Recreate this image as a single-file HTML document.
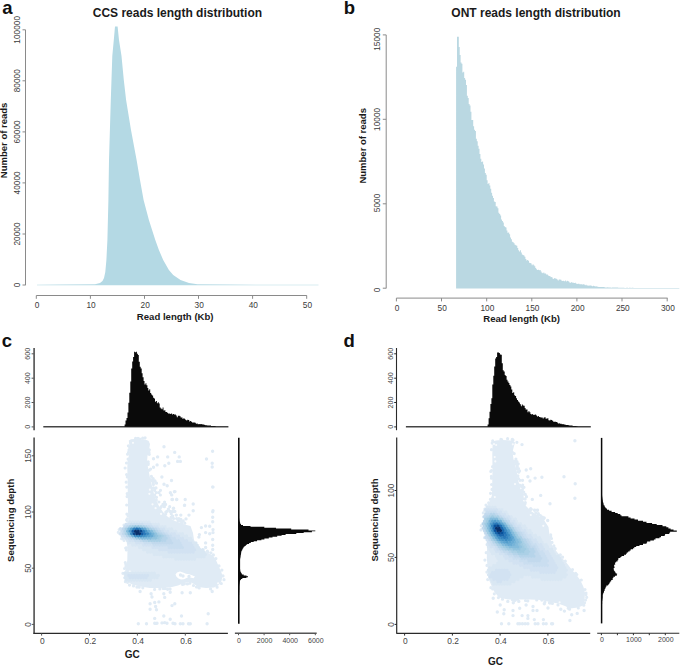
<!DOCTYPE html>
<html><head><meta charset="utf-8"><style>
html,body{margin:0;padding:0;background:#fff;width:685px;height:665px;overflow:hidden}
svg{display:block;font-family:"Liberation Sans",sans-serif}
</style></head><body>
<svg width="685" height="665" viewBox="0 0 685 665">
<rect width="685" height="665" fill="#fff"/>
<text x="2.3" y="14.2" text-anchor="start" font-size="18.5" font-weight="bold" fill="#111">a</text>
<text x="177.4" y="16.6" text-anchor="middle" font-size="12" font-weight="bold" fill="#1a1a1a">CCS reads length distribution</text>
<path d="M117.6,26.6 119,40 121.5,56 123.8,80 126.1,100 131,130 136.6,160 140,180 143.6,200 148.9,220 152.1,230 155.3,240 158.9,250 163.2,260 168.9,270 173.2,275 180.5,280 189,283 197.4,284.3 230,284.6 318.5,284.8 L318.5,285.3 L37,285.3 37,284.8 60,284.6 95,284.2 100,283 102.5,281 104,278 105.3,272 106.4,260 107.4,240 108.4,200 109,160 110.8,100 112.3,56 113.8,40 115,26.6Z" fill="#b4d9e4"/>
<line x1="25.5" y1="29.8" x2="25.5" y2="285.2" stroke="#8a8a8a" stroke-width="1"/>
<line x1="22.5" y1="285" x2="25.5" y2="285" stroke="#8a8a8a" stroke-width="1"/>
<text transform="translate(19.6,285) rotate(-90)" text-anchor="middle" font-size="8.3" fill="#3a3a3a">0</text>
<line x1="22.5" y1="234" x2="25.5" y2="234" stroke="#8a8a8a" stroke-width="1"/>
<text transform="translate(19.6,234) rotate(-90)" text-anchor="middle" font-size="8.3" fill="#3a3a3a">20000</text>
<line x1="22.5" y1="182.9" x2="25.5" y2="182.9" stroke="#8a8a8a" stroke-width="1"/>
<text transform="translate(19.6,182.9) rotate(-90)" text-anchor="middle" font-size="8.3" fill="#3a3a3a">40000</text>
<line x1="22.5" y1="131.9" x2="25.5" y2="131.9" stroke="#8a8a8a" stroke-width="1"/>
<text transform="translate(19.6,131.9) rotate(-90)" text-anchor="middle" font-size="8.3" fill="#3a3a3a">60000</text>
<line x1="22.5" y1="80.8" x2="25.5" y2="80.8" stroke="#8a8a8a" stroke-width="1"/>
<text transform="translate(19.6,80.8) rotate(-90)" text-anchor="middle" font-size="8.3" fill="#3a3a3a">80000</text>
<line x1="22.5" y1="29.8" x2="25.5" y2="29.8" stroke="#8a8a8a" stroke-width="1"/>
<text transform="translate(19.6,29.8) rotate(-90)" text-anchor="middle" font-size="8.3" fill="#3a3a3a">100000</text>
<line x1="36.3" y1="295.5" x2="306.8" y2="295.5" stroke="#8a8a8a" stroke-width="1"/>
<line x1="36.3" y1="295.5" x2="36.3" y2="298.8" stroke="#8a8a8a" stroke-width="1"/>
<text x="37" y="308" text-anchor="middle" font-size="8.3" fill="#3a3a3a">0</text>
<line x1="90.4" y1="295.5" x2="90.4" y2="298.8" stroke="#8a8a8a" stroke-width="1"/>
<text x="91.1" y="308" text-anchor="middle" font-size="8.3" fill="#3a3a3a">10</text>
<line x1="144.5" y1="295.5" x2="144.5" y2="298.8" stroke="#8a8a8a" stroke-width="1"/>
<text x="145.2" y="308" text-anchor="middle" font-size="8.3" fill="#3a3a3a">20</text>
<line x1="198.5" y1="295.5" x2="198.5" y2="298.8" stroke="#8a8a8a" stroke-width="1"/>
<text x="199.2" y="308" text-anchor="middle" font-size="8.3" fill="#3a3a3a">30</text>
<line x1="252.6" y1="295.5" x2="252.6" y2="298.8" stroke="#8a8a8a" stroke-width="1"/>
<text x="253.3" y="308" text-anchor="middle" font-size="8.3" fill="#3a3a3a">40</text>
<line x1="306.7" y1="295.5" x2="306.7" y2="298.8" stroke="#8a8a8a" stroke-width="1"/>
<text x="307.4" y="308" text-anchor="middle" font-size="8.3" fill="#3a3a3a">50</text>
<text x="175.2" y="319.8" text-anchor="middle" font-size="9.6" font-weight="bold" fill="#1a1a1a">Read length (Kb)</text>
<text transform="translate(7.3,140.4) rotate(-90)" text-anchor="middle" font-size="9.5" font-weight="bold" fill="#1a1a1a">Number of reads</text>
<text x="343.8" y="14.2" text-anchor="start" font-size="18.5" font-weight="bold" fill="#111">b</text>
<text x="536" y="16.6" text-anchor="middle" font-size="12" font-weight="bold" fill="#1a1a1a">ONT reads length distribution</text>
<path d="M456.1,288.6V66.8H457.0V36.8H457.9V36.8H458.8V47.0H459.7V54.9H460.6V62.5H461.5V63.8H462.4V72.4H463.3V71.8H464.2V77.9H465.1V79.8H466.0V85.1H466.9V95.7H467.8V97.9H468.7V103.9H469.6V105.6H470.5V111.7H471.4V119.9H472.3V120.0H473.2V126.2H474.1V129.7H475.0V130.9H475.9V138.8H476.8V141.2H477.7V145.7H478.6V148.8H479.5V153.9H480.4V158.7H481.3V161.9H482.2V161.4H483.1V164.5H484.0V168.6H484.9V173.0H485.8V174.7H486.7V180.2H487.6V183.9H488.5V183.0H489.4V185.5H490.3V188.7H491.2V192.8H492.1V195.7H493.0V198.0H493.9V201.6H494.8V202.1H495.7V206.3H496.6V206.6H497.5V208.3H498.4V212.8H499.3V213.9H500.2V215.4H501.1V219.6H502.0V221.1H502.9V222.6H503.8V226.0H504.7V227.0H505.6V227.5H506.5V230.6H507.4V232.7H508.3V232.6H509.2V234.3H510.1V237.5H511.0V239.3H511.9V241.7H512.8V242.3H513.7V243.2H514.6V244.7H515.5V245.2H516.4V245.8H517.3V248.0H518.2V250.3H519.1V251.5H520.0V250.3H520.9V252.6H521.8V254.6H522.7V254.9H523.6V255.4H524.5V256.7H525.4V258.9H526.3V260.6H527.2V259.9H528.1V260.8H529.0V262.7H529.9V263.0H530.8V263.4H531.7V265.2H532.6V264.3H533.5V265.3H534.4V266.2H535.3V267.9H536.2V269.3H537.1V269.9H538.0V269.8H538.9V270.2H539.8V269.9H540.7V271.4H541.6V272.7H542.5V273.2H543.4V272.4H544.3V273.4H545.2V273.5H546.1V274.6H547.0V274.5H547.9V275.6H548.8V275.9H549.7V276.3H550.6V277.2H551.5V277.1H552.4V278.6H553.3V279.1H554.2V278.0H555.1V278.5H556.0V278.7H556.9V279.4H557.8V280.5H558.7V279.5H559.6V279.4H560.5V279.7H561.4V280.8H562.3V281.0H563.2V280.7H564.1V281.2H565.0V280.6H565.9V281.4H566.8V280.8H567.7V281.0H568.6V281.8H569.5V282.8H570.4V282.7H571.3V282.1H572.2V282.8H573.1V282.7H574.0V283.1H574.9V282.8H575.8V283.5H576.7V284.0H577.6V283.8H578.5V283.7H579.4V284.2H580.3V284.3H581.2V284.2H582.1V284.6H583.0V284.3H583.9V284.5H584.8V285.2H585.7V284.7H586.6V285.6H587.5V285.5H588.4V285.8H589.3V285.6H590.2V285.5H591.1V285.8H592.0V286.3H592.9V285.8H593.8V286.0H594.7V286.4H595.6V286.2H596.5V286.6H597.4V286.7H598.3V286.9H599.2V287.0H600.1V287.0H601.0V287.1H601.9V287.1H602.8V287.1H603.7V287.1H604.6V287.5H605.5V287.4H606.4V287.6H607.3V287.3H608.2V287.5H609.1V287.4H610.0V287.4H610.9V287.7H611.8V287.5H612.7V287.4H613.6V287.5H614.5V287.5H615.4V287.5H616.3V287.6H617.2V287.5H618.1V287.7H619.0V287.7H619.9V287.8H620.8V287.8H621.7V287.7H622.6V287.8H623.5V287.8H624.4V287.9H625.3V287.9H626.2V287.8H627.1V287.8H628.0V287.9H628.9V287.8H629.8V287.8H630.7V287.9H631.6V287.8H632.5V287.8H633.4V287.9H634.3V287.9H635.2V288.0H636.1V287.9H637.0V288.0H637.9V287.9H638.8V288.0H639.7V288.0H640.6V288.0H641.5V288.0H642.4V287.9H643.3V288.0H644.2V287.9H645.1V288.0H646.0V288.0H646.9V288.0H647.8V288.0H648.7V288.1H649.6V288.1H650.5V288.1H651.4V288.1H652.3V288.0H653.2V288.0H654.1V288.0H655.0V288.1H655.9V288.1H656.8V288.0H657.7V288.0H658.6V288.0H659.5V288.0H660.4V288.1H661.3V288.0H662.2V288.0H663.1V288.0H664.0V288.0H664.9V288.1H665.8V288.1H666.7V288.0H667.6V288.1H668.5V288.0H669.4V288.1H670.3V288.0H671.2V288.1H672.1V288.1H673.0V288.1H673.9V288.1H674.8V288.1H675.7V288.0H676.6V288.1H677.5V288.1H678.4V288.1H679.3V288.6Z" fill="#bad8e2"/>
<line x1="386.2" y1="34.9" x2="386.2" y2="288.4" stroke="#8a8a8a" stroke-width="1"/>
<line x1="382.8" y1="288.2" x2="386.2" y2="288.2" stroke="#8a8a8a" stroke-width="1"/>
<text transform="translate(380.2,289.9) rotate(-90)" text-anchor="middle" font-size="8.3" fill="#3a3a3a">0</text>
<line x1="382.8" y1="203.8" x2="386.2" y2="203.8" stroke="#8a8a8a" stroke-width="1"/>
<text transform="translate(380.2,202.9) rotate(-90)" text-anchor="middle" font-size="8.3" fill="#3a3a3a">5000</text>
<line x1="382.8" y1="119.3" x2="386.2" y2="119.3" stroke="#8a8a8a" stroke-width="1"/>
<text transform="translate(380.2,119.4) rotate(-90)" text-anchor="middle" font-size="8.3" fill="#3a3a3a">10000</text>
<line x1="382.8" y1="34.9" x2="386.2" y2="34.9" stroke="#8a8a8a" stroke-width="1"/>
<text transform="translate(380.2,39.3) rotate(-90)" text-anchor="middle" font-size="8.3" fill="#3a3a3a">15000</text>
<line x1="396.4" y1="298.1" x2="667.6" y2="298.1" stroke="#8a8a8a" stroke-width="1"/>
<line x1="396.4" y1="298.1" x2="396.4" y2="301.4" stroke="#8a8a8a" stroke-width="1"/>
<text x="397.1" y="310.6" text-anchor="middle" font-size="8.3" fill="#3a3a3a">0</text>
<line x1="441.5" y1="298.1" x2="441.5" y2="301.4" stroke="#8a8a8a" stroke-width="1"/>
<text x="442.2" y="310.6" text-anchor="middle" font-size="8.3" fill="#3a3a3a">50</text>
<line x1="486.7" y1="298.1" x2="486.7" y2="301.4" stroke="#8a8a8a" stroke-width="1"/>
<text x="487.4" y="310.6" text-anchor="middle" font-size="8.3" fill="#3a3a3a">100</text>
<line x1="531.8" y1="298.1" x2="531.8" y2="301.4" stroke="#8a8a8a" stroke-width="1"/>
<text x="532.5" y="310.6" text-anchor="middle" font-size="8.3" fill="#3a3a3a">150</text>
<line x1="576.9" y1="298.1" x2="576.9" y2="301.4" stroke="#8a8a8a" stroke-width="1"/>
<text x="577.6" y="310.6" text-anchor="middle" font-size="8.3" fill="#3a3a3a">200</text>
<line x1="622" y1="298.1" x2="622" y2="301.4" stroke="#8a8a8a" stroke-width="1"/>
<text x="622.8" y="310.6" text-anchor="middle" font-size="8.3" fill="#3a3a3a">250</text>
<line x1="667.2" y1="298.1" x2="667.2" y2="301.4" stroke="#8a8a8a" stroke-width="1"/>
<text x="667.9" y="310.6" text-anchor="middle" font-size="8.3" fill="#3a3a3a">300</text>
<text x="521.6" y="322.2" text-anchor="middle" font-size="9.6" font-weight="bold" fill="#1a1a1a">Read length (Kb)</text>
<text transform="translate(366,145.8) rotate(-90)" text-anchor="middle" font-size="9.5" font-weight="bold" fill="#1a1a1a">Number of reads</text>
<text x="1.8" y="347" text-anchor="start" font-size="18.5" font-weight="bold" fill="#111">c</text>
<line x1="34.1" y1="348" x2="34.1" y2="430.2" stroke="#5a5a5a" stroke-width="1.7"/>
<line x1="31.6" y1="426.9" x2="33.9" y2="426.9" stroke="#555555" stroke-width="1"/>
<text transform="translate(29.9,426.9) rotate(-90)" text-anchor="middle" font-size="7.1" fill="#444444">0</text>
<line x1="31.6" y1="402.5" x2="33.9" y2="402.5" stroke="#555555" stroke-width="1"/>
<text transform="translate(29.9,402.5) rotate(-90)" text-anchor="middle" font-size="7.1" fill="#444444">200</text>
<line x1="31.6" y1="378.2" x2="33.9" y2="378.2" stroke="#555555" stroke-width="1"/>
<text transform="translate(29.9,378.2) rotate(-90)" text-anchor="middle" font-size="7.1" fill="#444444">400</text>
<line x1="31.6" y1="353.8" x2="33.9" y2="353.8" stroke="#555555" stroke-width="1"/>
<text transform="translate(29.9,353.8) rotate(-90)" text-anchor="middle" font-size="7.1" fill="#444444">600</text>
<line x1="43.3" y1="426.7" x2="228.4" y2="426.7" stroke="#444" stroke-width="1.4"/>
<path d="M124.6,426.7V424.4H125.5V420.4H126.5V418.1H127.5V412.4H128.4V402.8H129.3V392.8H130.3V381.4H131.2V368.6H132.2V361.6H133.1V357.0H134.1V351.8H135.0V352.2H136.0V351.8H136.9V353.7H137.9V354.9H138.8V361.8H139.8V366.7H140.7V368.6H141.7V373.3H142.6V377.3H143.6V381.0H144.5V384.6H145.5V383.3H146.4V385.3H147.4V388.0H148.3V390.6H149.3V389.2H150.2V393.0H151.2V394.4H152.1V395.5H153.1V397.7H154.0V398.6H155.0V401.8H155.9V401.1H156.9V403.2H157.8V402.2H158.8V403.5H159.7V407.5H160.7V408.5H161.6V409.3H162.6V407.6H163.5V410.4H164.5V410.3H165.4V412.1H166.4V411.9H167.3V413.0H168.3V413.7H169.2V413.5H170.2V414.1H171.1V413.4H172.1V414.4H173.0V413.9H174.0V414.5H174.9V414.4H175.9V415.6H176.8V417.2H177.8V415.7H178.7V415.7H179.7V416.3H180.6V417.5H181.6V417.5H182.5V419.0H183.5V418.1H184.4V419.0H185.4V419.9H186.3V420.6H187.3V419.7H188.2V419.9H189.2V421.6H190.1V420.9H191.1V421.8H192.0V422.4H193.0V422.6H193.9V422.5H194.9V422.7H195.8V423.8H196.8V423.6H197.7V424.2H198.7V423.9H199.6V424.3H200.6V424.1H201.5V424.2H202.5V424.6H203.4V424.6H204.4V425.1H205.3V425.3H206.3V425.2H207.2V425.5H208.2V425.5H209.1V425.6H210.1V425.6H211.0V425.9H212.0V426.0H212.9V425.9H213.9V426.1H214.8V426.2H215.8V426.7H216.7V426.7Z" fill="#0a0a0a"/>
<line x1="34.1" y1="437.6" x2="34.1" y2="633.4" stroke="#5a5a5a" stroke-width="1.7"/>
<line x1="31.8" y1="624.4" x2="34" y2="624.4" stroke="#555555" stroke-width="1"/>
<text transform="translate(31,624.4) rotate(-90)" text-anchor="middle" font-size="8.4" fill="#444444">0</text>
<line x1="31.8" y1="568.2" x2="34" y2="568.2" stroke="#555555" stroke-width="1"/>
<text transform="translate(31,568.2) rotate(-90)" text-anchor="middle" font-size="8.4" fill="#444444">50</text>
<line x1="31.8" y1="512" x2="34" y2="512" stroke="#555555" stroke-width="1"/>
<text transform="translate(31,512) rotate(-90)" text-anchor="middle" font-size="8.4" fill="#444444">100</text>
<line x1="31.8" y1="455.8" x2="34" y2="455.8" stroke="#555555" stroke-width="1"/>
<text transform="translate(31,455.8) rotate(-90)" text-anchor="middle" font-size="8.4" fill="#444444">150</text>
<line x1="33.3" y1="633.3" x2="227.9" y2="633.3" stroke="#2a2a2a" stroke-width="1.3"/>
<line x1="41.6" y1="633.4" x2="41.6" y2="635.6" stroke="#555555" stroke-width="1"/>
<text x="42.4" y="643.6" text-anchor="middle" font-size="8.4" fill="#444444">0</text>
<line x1="89.5" y1="633.4" x2="89.5" y2="635.6" stroke="#555555" stroke-width="1"/>
<text x="90.3" y="643.6" text-anchor="middle" font-size="8.4" fill="#444444">0.2</text>
<line x1="137.4" y1="633.4" x2="137.4" y2="635.6" stroke="#555555" stroke-width="1"/>
<text x="138.2" y="643.6" text-anchor="middle" font-size="8.4" fill="#444444">0.4</text>
<line x1="185.3" y1="633.4" x2="185.3" y2="635.6" stroke="#555555" stroke-width="1"/>
<text x="186.1" y="643.6" text-anchor="middle" font-size="8.4" fill="#444444">0.6</text>
<text x="132.2" y="658.3" text-anchor="middle" font-size="10" font-weight="bold" fill="#1a1a1a">GC</text>
<text transform="translate(13.6,520.3) rotate(-90)" text-anchor="middle" font-size="9.6" font-weight="bold" fill="#1a1a1a">Sequencing depth</text>
<line x1="238.8" y1="437.8" x2="238.8" y2="623.8" stroke="#0a0a0a" stroke-width="1.6"/>
<path d="M238.8,516H238.9V516.9H239.0V517.8H239.1V518.7H239.2V519.6H239.3V520.5H239.5V521.4H239.8V522.3H240.1V523.2H240.4V524.1H241.0V525.0H243.0V525.9H250.5V526.8H264.3V527.7H276.0V528.6H291.2V529.5H308.5V530.4H315.3V531.3H311.9V532.2H303.7V533.1H296.3V534.0H285.6V534.9H281.6V535.8H277.2V536.7H272.5V537.6H268.8V538.5H264.4V539.4H261.4V540.3H257.1V541.2H253.7V542.1H250.8V543.0H249.1V543.9H247.1V544.8H246.0V545.7H244.9V546.6H243.9V547.5H243.2V548.4H242.7V549.3H242.3V550.2H241.8V551.1H241.4V552.0H241.2V552.9H241.1V553.8H241.0V554.7H240.7V555.6H240.7V556.5H240.5V557.4H240.4V558.3H240.2V559.2H240.1V560.1H240.1V561.0H240.1V561.9H240.1V562.8H240.1V563.7H240.1V564.6H240.1V565.5H240.1V566.4H240.1V567.3H240.1V568.2H240.1V569.1H240.2V570.0H240.3V570.9H240.4V571.8H240.9V572.7H241.4V573.6H241.9V574.5H243.7V575.4H246.5V576.3H248.0V577.2H246.4V578.1H242.3V579.0H240.9V579.9H240.2V580.8H239.9V581.7H239.8V582.6H239.7V583.5H239.6V584.4H239.4V585.3H239.4V586.2H239.3V587.1H239.3V588.0H239.3V588.9H239.3V589.8H239.2V590.7H239.2V591.6H239.2V592.5H239.1V593.4H239.1V594.3H239.1V595.2H239.0V596.1H239.0V597.0H239.0V597.9H239.0V598.8H238.9V599.7H238.9V600.6H238.8Z" fill="#0a0a0a"/>
<line x1="234.9" y1="633.2" x2="316.7" y2="633.2" stroke="#555555" stroke-width="1.4"/>
<line x1="238.5" y1="633.2" x2="238.5" y2="635.2" stroke="#555555" stroke-width="1"/>
<text x="239" y="642.6" text-anchor="middle" font-size="7" fill="#444444">0</text>
<line x1="264.1" y1="633.2" x2="264.1" y2="635.2" stroke="#555555" stroke-width="1"/>
<text x="264.6" y="642.6" text-anchor="middle" font-size="7" fill="#444444">2000</text>
<line x1="289.7" y1="633.2" x2="289.7" y2="635.2" stroke="#555555" stroke-width="1"/>
<text x="290.2" y="642.6" text-anchor="middle" font-size="7" fill="#444444">4000</text>
<line x1="315.3" y1="633.2" x2="315.3" y2="635.2" stroke="#555555" stroke-width="1"/>
<text x="315.8" y="642.6" text-anchor="middle" font-size="7" fill="#444444">6000</text>
<path d="M128.8,440.5 131,439.3 135,439 140,439.2 145,439.6 148.5,440.8 150,444 149,450 147.5,456 147,462 148.5,470 150,478 152,486 154,494 156,500 159,506 163,512 168,517 175,521 183,524 190.5,526 193,533 194,540 198,546 203,550 208,553 213,555.5 216,560 218.5,566 221,571 222.5,576 221.5,581 219,585 214,587.5 206,588 198,587 194,584 190,582 184,583 178,585.5 170,587.5 160,588 150,588 140,586.5 132,584.5 128,582 124.5,578.5 123.5,574 126,569 127.3,560 127.5,548 126.5,541 122.5,538 119.5,533 120.5,528.5 125,525.5 128.3,521 128,510 127.8,495 127.6,480 127.3,468 127.6,461 129,455 130,448 129,443Z" fill="#e0ebf5"/>
<path d="M177,572.5 180,571.5 183,572.5 186,573.8 189,574.2 192,575.2 195,576.5 193.5,578.3 190,577.6 187,577.8 184,579.3 181,579.6 178.5,578.4 176.5,576.8 175.5,574.5Z" fill="#fff"/>
<path d="M134.0,438.3a1.6,1.6 0 1,0 3.2,0a1.6,1.6 0 1,0 -3.2,0M136.4,438.3a1.6,1.6 0 1,0 3.2,0a1.6,1.6 0 1,0 -3.2,0M138.2,439.2a1.6,1.6 0 1,0 3.2,0a1.6,1.6 0 1,0 -3.2,0M141.1,438.2a1.6,1.6 0 1,0 3.2,0a1.6,1.6 0 1,0 -3.2,0M143.5,437.8a1.6,1.6 0 1,0 3.2,0a1.6,1.6 0 1,0 -3.2,0M147.7,449.8a1.6,1.6 0 1,0 3.2,0a1.6,1.6 0 1,0 -3.2,0M147.4,452.3a1.6,1.6 0 1,0 3.2,0a1.6,1.6 0 1,0 -3.2,0M147.7,454.3a1.6,1.6 0 1,0 3.2,0a1.6,1.6 0 1,0 -3.2,0M146.6,461.8a1.6,1.6 0 1,0 3.2,0a1.6,1.6 0 1,0 -3.2,0M146.7,463.4a1.6,1.6 0 1,0 3.2,0a1.6,1.6 0 1,0 -3.2,0M147.6,470.2a1.6,1.6 0 1,0 3.2,0a1.6,1.6 0 1,0 -3.2,0M149.8,476.4a1.6,1.6 0 1,0 3.2,0a1.6,1.6 0 1,0 -3.2,0M148.9,479.7a1.6,1.6 0 1,0 3.2,0a1.6,1.6 0 1,0 -3.2,0M151.8,484.5a1.6,1.6 0 1,0 3.2,0a1.6,1.6 0 1,0 -3.2,0M154.7,500.0a1.6,1.6 0 1,0 3.2,0a1.6,1.6 0 1,0 -3.2,0M159.1,507.5a1.6,1.6 0 1,0 3.2,0a1.6,1.6 0 1,0 -3.2,0M164.2,512.2a1.6,1.6 0 1,0 3.2,0a1.6,1.6 0 1,0 -3.2,0M169.4,517.4a1.6,1.6 0 1,0 3.2,0a1.6,1.6 0 1,0 -3.2,0M201.6,549.8a1.6,1.6 0 1,0 3.2,0a1.6,1.6 0 1,0 -3.2,0M205.8,551.2a1.6,1.6 0 1,0 3.2,0a1.6,1.6 0 1,0 -3.2,0M206.2,552.0a1.6,1.6 0 1,0 3.2,0a1.6,1.6 0 1,0 -3.2,0M209.3,552.8a1.6,1.6 0 1,0 3.2,0a1.6,1.6 0 1,0 -3.2,0M211.8,554.9a1.6,1.6 0 1,0 3.2,0a1.6,1.6 0 1,0 -3.2,0M214.3,558.6a1.6,1.6 0 1,0 3.2,0a1.6,1.6 0 1,0 -3.2,0M217.4,565.9a1.6,1.6 0 1,0 3.2,0a1.6,1.6 0 1,0 -3.2,0M220.3,570.1a1.6,1.6 0 1,0 3.2,0a1.6,1.6 0 1,0 -3.2,0M221.4,575.9a1.6,1.6 0 1,0 3.2,0a1.6,1.6 0 1,0 -3.2,0M222.4,579.7a1.6,1.6 0 1,0 3.2,0a1.6,1.6 0 1,0 -3.2,0M219.7,583.5a1.6,1.6 0 1,0 3.2,0a1.6,1.6 0 1,0 -3.2,0M215.5,587.2a1.6,1.6 0 1,0 3.2,0a1.6,1.6 0 1,0 -3.2,0M209.0,588.9a1.6,1.6 0 1,0 3.2,0a1.6,1.6 0 1,0 -3.2,0M197.6,588.0a1.6,1.6 0 1,0 3.2,0a1.6,1.6 0 1,0 -3.2,0M194.9,587.0a1.6,1.6 0 1,0 3.2,0a1.6,1.6 0 1,0 -3.2,0M191.9,585.5a1.6,1.6 0 1,0 3.2,0a1.6,1.6 0 1,0 -3.2,0M188.3,583.2a1.6,1.6 0 1,0 3.2,0a1.6,1.6 0 1,0 -3.2,0M185.8,583.9a1.6,1.6 0 1,0 3.2,0a1.6,1.6 0 1,0 -3.2,0M182.8,583.8a1.6,1.6 0 1,0 3.2,0a1.6,1.6 0 1,0 -3.2,0M181.0,584.4a1.6,1.6 0 1,0 3.2,0a1.6,1.6 0 1,0 -3.2,0M168.5,589.1a1.6,1.6 0 1,0 3.2,0a1.6,1.6 0 1,0 -3.2,0M166.0,589.3a1.6,1.6 0 1,0 3.2,0a1.6,1.6 0 1,0 -3.2,0M163.4,588.4a1.6,1.6 0 1,0 3.2,0a1.6,1.6 0 1,0 -3.2,0M161.6,588.4a1.6,1.6 0 1,0 3.2,0a1.6,1.6 0 1,0 -3.2,0M158.2,589.0a1.6,1.6 0 1,0 3.2,0a1.6,1.6 0 1,0 -3.2,0M153.0,589.4a1.6,1.6 0 1,0 3.2,0a1.6,1.6 0 1,0 -3.2,0M141.2,587.8a1.6,1.6 0 1,0 3.2,0a1.6,1.6 0 1,0 -3.2,0M137.6,587.2a1.6,1.6 0 1,0 3.2,0a1.6,1.6 0 1,0 -3.2,0M135.3,587.1a1.6,1.6 0 1,0 3.2,0a1.6,1.6 0 1,0 -3.2,0M131.9,585.9a1.6,1.6 0 1,0 3.2,0a1.6,1.6 0 1,0 -3.2,0M127.9,585.1a1.6,1.6 0 1,0 3.2,0a1.6,1.6 0 1,0 -3.2,0M126.0,582.3a1.6,1.6 0 1,0 3.2,0a1.6,1.6 0 1,0 -3.2,0M123.8,581.7a1.6,1.6 0 1,0 3.2,0a1.6,1.6 0 1,0 -3.2,0M121.3,573.3a1.6,1.6 0 1,0 3.2,0a1.6,1.6 0 1,0 -3.2,0M123.0,568.5a1.6,1.6 0 1,0 3.2,0a1.6,1.6 0 1,0 -3.2,0M124.4,566.4a1.6,1.6 0 1,0 3.2,0a1.6,1.6 0 1,0 -3.2,0M124.3,564.4a1.6,1.6 0 1,0 3.2,0a1.6,1.6 0 1,0 -3.2,0M123.7,562.5a1.6,1.6 0 1,0 3.2,0a1.6,1.6 0 1,0 -3.2,0M124.8,549.9a1.6,1.6 0 1,0 3.2,0a1.6,1.6 0 1,0 -3.2,0M124.1,548.0a1.6,1.6 0 1,0 3.2,0a1.6,1.6 0 1,0 -3.2,0M124.9,547.8a1.6,1.6 0 1,0 3.2,0a1.6,1.6 0 1,0 -3.2,0M122.5,540.5a1.6,1.6 0 1,0 3.2,0a1.6,1.6 0 1,0 -3.2,0M120.1,538.7a1.6,1.6 0 1,0 3.2,0a1.6,1.6 0 1,0 -3.2,0M118.2,533.8a1.6,1.6 0 1,0 3.2,0a1.6,1.6 0 1,0 -3.2,0M116.7,532.3a1.6,1.6 0 1,0 3.2,0a1.6,1.6 0 1,0 -3.2,0M117.6,529.6a1.6,1.6 0 1,0 3.2,0a1.6,1.6 0 1,0 -3.2,0M118.7,528.7a1.6,1.6 0 1,0 3.2,0a1.6,1.6 0 1,0 -3.2,0M122.4,525.0a1.6,1.6 0 1,0 3.2,0a1.6,1.6 0 1,0 -3.2,0M125.0,520.0a1.6,1.6 0 1,0 3.2,0a1.6,1.6 0 1,0 -3.2,0M125.7,520.8a1.6,1.6 0 1,0 3.2,0a1.6,1.6 0 1,0 -3.2,0M125.6,518.9a1.6,1.6 0 1,0 3.2,0a1.6,1.6 0 1,0 -3.2,0M126.5,515.7a1.6,1.6 0 1,0 3.2,0a1.6,1.6 0 1,0 -3.2,0M125.3,514.1a1.6,1.6 0 1,0 3.2,0a1.6,1.6 0 1,0 -3.2,0M125.1,505.0a1.6,1.6 0 1,0 3.2,0a1.6,1.6 0 1,0 -3.2,0M125.5,496.6a1.6,1.6 0 1,0 3.2,0a1.6,1.6 0 1,0 -3.2,0M126.2,495.1a1.6,1.6 0 1,0 3.2,0a1.6,1.6 0 1,0 -3.2,0M125.6,493.6a1.6,1.6 0 1,0 3.2,0a1.6,1.6 0 1,0 -3.2,0M125.2,487.1a1.6,1.6 0 1,0 3.2,0a1.6,1.6 0 1,0 -3.2,0M124.6,482.2a1.6,1.6 0 1,0 3.2,0a1.6,1.6 0 1,0 -3.2,0M125.7,476.9a1.6,1.6 0 1,0 3.2,0a1.6,1.6 0 1,0 -3.2,0M125.0,474.5a1.6,1.6 0 1,0 3.2,0a1.6,1.6 0 1,0 -3.2,0M123.5,468.0a1.6,1.6 0 1,0 3.2,0a1.6,1.6 0 1,0 -3.2,0M124.9,463.0a1.6,1.6 0 1,0 3.2,0a1.6,1.6 0 1,0 -3.2,0M126.5,459.1a1.6,1.6 0 1,0 3.2,0a1.6,1.6 0 1,0 -3.2,0M126.0,454.2a1.6,1.6 0 1,0 3.2,0a1.6,1.6 0 1,0 -3.2,0M126.9,452.4a1.6,1.6 0 1,0 3.2,0a1.6,1.6 0 1,0 -3.2,0M127.4,449.9a1.6,1.6 0 1,0 3.2,0a1.6,1.6 0 1,0 -3.2,0M128.2,448.1a1.6,1.6 0 1,0 3.2,0a1.6,1.6 0 1,0 -3.2,0M126.8,445.8a1.6,1.6 0 1,0 3.2,0a1.6,1.6 0 1,0 -3.2,0M146.6,464.4a1.6,1.6 0 1,0 3.2,0a1.6,1.6 0 1,0 -3.2,0M149.0,469.1a1.6,1.6 0 1,0 3.2,0a1.6,1.6 0 1,0 -3.2,0M151.6,478.5a1.6,1.6 0 1,0 3.2,0a1.6,1.6 0 1,0 -3.2,0M150.6,480.9a1.6,1.6 0 1,0 3.2,0a1.6,1.6 0 1,0 -3.2,0M153.4,480.9a1.6,1.6 0 1,0 3.2,0a1.6,1.6 0 1,0 -3.2,0M151.7,483.2a1.6,1.6 0 1,0 3.2,0a1.6,1.6 0 1,0 -3.2,0M154.9,483.2a1.6,1.6 0 1,0 3.2,0a1.6,1.6 0 1,0 -3.2,0M151.8,487.9a1.6,1.6 0 1,0 3.2,0a1.6,1.6 0 1,0 -3.2,0M154.4,487.9a1.6,1.6 0 1,0 3.2,0a1.6,1.6 0 1,0 -3.2,0M153.0,490.3a1.6,1.6 0 1,0 3.2,0a1.6,1.6 0 1,0 -3.2,0M158.9,490.3a1.6,1.6 0 1,0 3.2,0a1.6,1.6 0 1,0 -3.2,0M154.6,492.6a1.6,1.6 0 1,0 3.2,0a1.6,1.6 0 1,0 -3.2,0M157.3,492.6a1.6,1.6 0 1,0 3.2,0a1.6,1.6 0 1,0 -3.2,0M153.0,495.0a1.6,1.6 0 1,0 3.2,0a1.6,1.6 0 1,0 -3.2,0M158.8,495.0a1.6,1.6 0 1,0 3.2,0a1.6,1.6 0 1,0 -3.2,0M154.9,497.3a1.6,1.6 0 1,0 3.2,0a1.6,1.6 0 1,0 -3.2,0M157.3,502.0a1.6,1.6 0 1,0 3.2,0a1.6,1.6 0 1,0 -3.2,0M163.0,502.0a1.6,1.6 0 1,0 3.2,0a1.6,1.6 0 1,0 -3.2,0M161.3,504.4a1.6,1.6 0 1,0 3.2,0a1.6,1.6 0 1,0 -3.2,0M164.0,504.4a1.6,1.6 0 1,0 3.2,0a1.6,1.6 0 1,0 -3.2,0M159.7,506.7a1.6,1.6 0 1,0 3.2,0a1.6,1.6 0 1,0 -3.2,0M162.8,506.7a1.6,1.6 0 1,0 3.2,0a1.6,1.6 0 1,0 -3.2,0M168.1,506.7a1.6,1.6 0 1,0 3.2,0a1.6,1.6 0 1,0 -3.2,0M166.8,509.1a1.6,1.6 0 1,0 3.2,0a1.6,1.6 0 1,0 -3.2,0M165.2,511.4a1.6,1.6 0 1,0 3.2,0a1.6,1.6 0 1,0 -3.2,0M168.4,511.4a1.6,1.6 0 1,0 3.2,0a1.6,1.6 0 1,0 -3.2,0M170.9,511.4a1.6,1.6 0 1,0 3.2,0a1.6,1.6 0 1,0 -3.2,0M173.3,511.4a1.6,1.6 0 1,0 3.2,0a1.6,1.6 0 1,0 -3.2,0M164.2,513.8a1.6,1.6 0 1,0 3.2,0a1.6,1.6 0 1,0 -3.2,0M169.6,513.8a1.6,1.6 0 1,0 3.2,0a1.6,1.6 0 1,0 -3.2,0M171.1,516.1a1.6,1.6 0 1,0 3.2,0a1.6,1.6 0 1,0 -3.2,0M172.1,518.5a1.6,1.6 0 1,0 3.2,0a1.6,1.6 0 1,0 -3.2,0M175.1,518.5a1.6,1.6 0 1,0 3.2,0a1.6,1.6 0 1,0 -3.2,0M177.3,518.5a1.6,1.6 0 1,0 3.2,0a1.6,1.6 0 1,0 -3.2,0M176.4,520.8a1.6,1.6 0 1,0 3.2,0a1.6,1.6 0 1,0 -3.2,0M178.8,520.8a1.6,1.6 0 1,0 3.2,0a1.6,1.6 0 1,0 -3.2,0M181.6,520.8a1.6,1.6 0 1,0 3.2,0a1.6,1.6 0 1,0 -3.2,0M180.0,523.2a1.6,1.6 0 1,0 3.2,0a1.6,1.6 0 1,0 -3.2,0M183.2,523.2a1.6,1.6 0 1,0 3.2,0a1.6,1.6 0 1,0 -3.2,0" fill="#e0ebf5"/>
<path d="M148.8,489.7a1.1,1.1 0 1,0 2.2,0a1.1,1.1 0 1,0 -2.2,0M148.3,493.8a1.1,1.1 0 1,0 2.2,0a1.1,1.1 0 1,0 -2.2,0M151.4,504.3a1.1,1.1 0 1,0 2.2,0a1.1,1.1 0 1,0 -2.2,0M154.5,508.2a1.1,1.1 0 1,0 2.2,0a1.1,1.1 0 1,0 -2.2,0M160.0,513.9a1.1,1.1 0 1,0 2.2,0a1.1,1.1 0 1,0 -2.2,0M189.6,542.2a1.1,1.1 0 1,0 2.2,0a1.1,1.1 0 1,0 -2.2,0M217.0,583.3a1.1,1.1 0 1,0 2.2,0a1.1,1.1 0 1,0 -2.2,0M127.6,573.0a1.1,1.1 0 1,0 2.2,0a1.1,1.1 0 1,0 -2.2,0M128.8,571.6a1.1,1.1 0 1,0 2.2,0a1.1,1.1 0 1,0 -2.2,0M131.9,442.8a1.1,1.1 0 1,0 2.2,0a1.1,1.1 0 1,0 -2.2,0" fill="#fff" opacity="0.75"/>
<path d="M162.3,446.8a1.7,1.7 0 1,0 3.4,0a1.7,1.7 0 1,0 -3.4,0M173.0,452.4a1.7,1.7 0 1,0 3.4,0a1.7,1.7 0 1,0 -3.4,0M155.9,456.9a1.7,1.7 0 1,0 3.4,0a1.7,1.7 0 1,0 -3.4,0M151.8,458.8a1.7,1.7 0 1,0 3.4,0a1.7,1.7 0 1,0 -3.4,0M166.0,456.9a1.7,1.7 0 1,0 3.4,0a1.7,1.7 0 1,0 -3.4,0M177.5,456.9a1.7,1.7 0 1,0 3.4,0a1.7,1.7 0 1,0 -3.4,0M175.9,461.4a1.7,1.7 0 1,0 3.4,0a1.7,1.7 0 1,0 -3.4,0M178.7,461.4a1.7,1.7 0 1,0 3.4,0a1.7,1.7 0 1,0 -3.4,0M167.1,463.3a1.7,1.7 0 1,0 3.4,0a1.7,1.7 0 1,0 -3.4,0M163.1,465.7a1.7,1.7 0 1,0 3.4,0a1.7,1.7 0 1,0 -3.4,0M155.4,464.9a1.7,1.7 0 1,0 3.4,0a1.7,1.7 0 1,0 -3.4,0M151.8,467.3a1.7,1.7 0 1,0 3.4,0a1.7,1.7 0 1,0 -3.4,0M210.9,451.3a1.7,1.7 0 1,0 3.4,0a1.7,1.7 0 1,0 -3.4,0M204.8,459.0a1.7,1.7 0 1,0 3.4,0a1.7,1.7 0 1,0 -3.4,0M210.5,463.3a1.7,1.7 0 1,0 3.4,0a1.7,1.7 0 1,0 -3.4,0M210.5,467.0a1.7,1.7 0 1,0 3.4,0a1.7,1.7 0 1,0 -3.4,0M211.3,487.1a1.7,1.7 0 1,0 3.4,0a1.7,1.7 0 1,0 -3.4,0M160.2,477.0a1.7,1.7 0 1,0 3.4,0a1.7,1.7 0 1,0 -3.4,0M169.8,480.5a1.7,1.7 0 1,0 3.4,0a1.7,1.7 0 1,0 -3.4,0M162.3,484.2a1.7,1.7 0 1,0 3.4,0a1.7,1.7 0 1,0 -3.4,0M165.5,485.8a1.7,1.7 0 1,0 3.4,0a1.7,1.7 0 1,0 -3.4,0M168.7,492.7a1.7,1.7 0 1,0 3.4,0a1.7,1.7 0 1,0 -3.4,0M172.7,491.7a1.7,1.7 0 1,0 3.4,0a1.7,1.7 0 1,0 -3.4,0M170.3,499.5a1.7,1.7 0 1,0 3.4,0a1.7,1.7 0 1,0 -3.4,0M175.1,499.5a1.7,1.7 0 1,0 3.4,0a1.7,1.7 0 1,0 -3.4,0M183.5,499.5a1.7,1.7 0 1,0 3.4,0a1.7,1.7 0 1,0 -3.4,0M191.5,504.0a1.7,1.7 0 1,0 3.4,0a1.7,1.7 0 1,0 -3.4,0M182.8,505.4a1.7,1.7 0 1,0 3.4,0a1.7,1.7 0 1,0 -3.4,0M171.9,508.3a1.7,1.7 0 1,0 3.4,0a1.7,1.7 0 1,0 -3.4,0M191.5,510.7a1.7,1.7 0 1,0 3.4,0a1.7,1.7 0 1,0 -3.4,0M211.3,510.7a1.7,1.7 0 1,0 3.4,0a1.7,1.7 0 1,0 -3.4,0M211.0,487.0a1.7,1.7 0 1,0 3.4,0a1.7,1.7 0 1,0 -3.4,0M173.3,491.6a1.7,1.7 0 1,0 3.4,0a1.7,1.7 0 1,0 -3.4,0M170.0,494.9a1.7,1.7 0 1,0 3.4,0a1.7,1.7 0 1,0 -3.4,0M170.8,499.5a1.7,1.7 0 1,0 3.4,0a1.7,1.7 0 1,0 -3.4,0M174.9,499.5a1.7,1.7 0 1,0 3.4,0a1.7,1.7 0 1,0 -3.4,0M182.9,505.1a1.7,1.7 0 1,0 3.4,0a1.7,1.7 0 1,0 -3.4,0M191.5,510.6a1.7,1.7 0 1,0 3.4,0a1.7,1.7 0 1,0 -3.4,0M171.6,508.4a1.7,1.7 0 1,0 3.4,0a1.7,1.7 0 1,0 -3.4,0M174.6,515.1a1.7,1.7 0 1,0 3.4,0a1.7,1.7 0 1,0 -3.4,0M179.1,515.1a1.7,1.7 0 1,0 3.4,0a1.7,1.7 0 1,0 -3.4,0M179.1,519.4a1.7,1.7 0 1,0 3.4,0a1.7,1.7 0 1,0 -3.4,0M184.3,518.9a1.7,1.7 0 1,0 3.4,0a1.7,1.7 0 1,0 -3.4,0M187.3,515.1a1.7,1.7 0 1,0 3.4,0a1.7,1.7 0 1,0 -3.4,0M211.0,511.8a1.7,1.7 0 1,0 3.4,0a1.7,1.7 0 1,0 -3.4,0M211.0,517.2a1.7,1.7 0 1,0 3.4,0a1.7,1.7 0 1,0 -3.4,0M211.0,521.7a1.7,1.7 0 1,0 3.4,0a1.7,1.7 0 1,0 -3.4,0M199.7,527.6a1.7,1.7 0 1,0 3.4,0a1.7,1.7 0 1,0 -3.4,0M203.9,526.0a1.7,1.7 0 1,0 3.4,0a1.7,1.7 0 1,0 -3.4,0M208.0,526.3a1.7,1.7 0 1,0 3.4,0a1.7,1.7 0 1,0 -3.4,0M211.3,529.6a1.7,1.7 0 1,0 3.4,0a1.7,1.7 0 1,0 -3.4,0M211.3,532.6a1.7,1.7 0 1,0 3.4,0a1.7,1.7 0 1,0 -3.4,0M203.9,532.6a1.7,1.7 0 1,0 3.4,0a1.7,1.7 0 1,0 -3.4,0M208.0,533.8a1.7,1.7 0 1,0 3.4,0a1.7,1.7 0 1,0 -3.4,0M197.7,534.6a1.7,1.7 0 1,0 3.4,0a1.7,1.7 0 1,0 -3.4,0M197.2,537.1a1.7,1.7 0 1,0 3.4,0a1.7,1.7 0 1,0 -3.4,0M203.9,542.9a1.7,1.7 0 1,0 3.4,0a1.7,1.7 0 1,0 -3.4,0M203.9,547.5a1.7,1.7 0 1,0 3.4,0a1.7,1.7 0 1,0 -3.4,0M211.0,539.5a1.7,1.7 0 1,0 3.4,0a1.7,1.7 0 1,0 -3.4,0M211.0,545.3a1.7,1.7 0 1,0 3.4,0a1.7,1.7 0 1,0 -3.4,0M211.0,549.5a1.7,1.7 0 1,0 3.4,0a1.7,1.7 0 1,0 -3.4,0M138.4,591.5a1.7,1.7 0 1,0 3.4,0a1.7,1.7 0 1,0 -3.4,0M149.4,593.7a1.7,1.7 0 1,0 3.4,0a1.7,1.7 0 1,0 -3.4,0M150.3,597.0a1.7,1.7 0 1,0 3.4,0a1.7,1.7 0 1,0 -3.4,0M162.1,593.7a1.7,1.7 0 1,0 3.4,0a1.7,1.7 0 1,0 -3.4,0M163.0,597.4a1.7,1.7 0 1,0 3.4,0a1.7,1.7 0 1,0 -3.4,0M168.5,592.3a1.7,1.7 0 1,0 3.4,0a1.7,1.7 0 1,0 -3.4,0M180.4,592.8a1.7,1.7 0 1,0 3.4,0a1.7,1.7 0 1,0 -3.4,0M188.6,592.8a1.7,1.7 0 1,0 3.4,0a1.7,1.7 0 1,0 -3.4,0M201.4,584.2a1.7,1.7 0 1,0 3.4,0a1.7,1.7 0 1,0 -3.4,0M210.5,591.5a1.7,1.7 0 1,0 3.4,0a1.7,1.7 0 1,0 -3.4,0M148.4,603.8a1.7,1.7 0 1,0 3.4,0a1.7,1.7 0 1,0 -3.4,0M153.0,602.5a1.7,1.7 0 1,0 3.4,0a1.7,1.7 0 1,0 -3.4,0M157.2,601.9a1.7,1.7 0 1,0 3.4,0a1.7,1.7 0 1,0 -3.4,0M153.9,606.5a1.7,1.7 0 1,0 3.4,0a1.7,1.7 0 1,0 -3.4,0M148.4,609.2a1.7,1.7 0 1,0 3.4,0a1.7,1.7 0 1,0 -3.4,0M154.8,609.8a1.7,1.7 0 1,0 3.4,0a1.7,1.7 0 1,0 -3.4,0M170.3,605.6a1.7,1.7 0 1,0 3.4,0a1.7,1.7 0 1,0 -3.4,0M173.1,603.8a1.7,1.7 0 1,0 3.4,0a1.7,1.7 0 1,0 -3.4,0M162.1,616.0a1.7,1.7 0 1,0 3.4,0a1.7,1.7 0 1,0 -3.4,0M179.8,616.0a1.7,1.7 0 1,0 3.4,0a1.7,1.7 0 1,0 -3.4,0M206.5,613.8a1.7,1.7 0 1,0 3.4,0a1.7,1.7 0 1,0 -3.4,0M153.0,618.4a1.7,1.7 0 1,0 3.4,0a1.7,1.7 0 1,0 -3.4,0M168.5,619.3a1.7,1.7 0 1,0 3.4,0a1.7,1.7 0 1,0 -3.4,0M136.6,623.8a1.7,1.7 0 1,0 3.4,0a1.7,1.7 0 1,0 -3.4,0M144.8,623.8a1.7,1.7 0 1,0 3.4,0a1.7,1.7 0 1,0 -3.4,0M153.0,623.3a1.7,1.7 0 1,0 3.4,0a1.7,1.7 0 1,0 -3.4,0M155.3,623.3a1.7,1.7 0 1,0 3.4,0a1.7,1.7 0 1,0 -3.4,0M160.3,622.9a1.7,1.7 0 1,0 3.4,0a1.7,1.7 0 1,0 -3.4,0M163.0,622.6a1.7,1.7 0 1,0 3.4,0a1.7,1.7 0 1,0 -3.4,0M165.3,623.3a1.7,1.7 0 1,0 3.4,0a1.7,1.7 0 1,0 -3.4,0M171.3,623.3a1.7,1.7 0 1,0 3.4,0a1.7,1.7 0 1,0 -3.4,0M173.3,623.8a1.7,1.7 0 1,0 3.4,0a1.7,1.7 0 1,0 -3.4,0M178.6,623.8a1.7,1.7 0 1,0 3.4,0a1.7,1.7 0 1,0 -3.4,0M181.3,623.8a1.7,1.7 0 1,0 3.4,0a1.7,1.7 0 1,0 -3.4,0M186.8,623.8a1.7,1.7 0 1,0 3.4,0a1.7,1.7 0 1,0 -3.4,0M188.6,623.8a1.7,1.7 0 1,0 3.4,0a1.7,1.7 0 1,0 -3.4,0M205.4,623.8a1.7,1.7 0 1,0 3.4,0a1.7,1.7 0 1,0 -3.4,0M181.3,576.0a1.7,1.7 0 1,0 3.4,0a1.7,1.7 0 1,0 -3.4,0M187.3,576.5a1.7,1.7 0 1,0 3.4,0a1.7,1.7 0 1,0 -3.4,0M178.8,575.0a1.7,1.7 0 1,0 3.4,0a1.7,1.7 0 1,0 -3.4,0" fill="#e0ebf5"/>
<path d="M130.1,520.2l1.5,0.9v1.7l-1.5,0.9l-1.5,-0.9v-1.7zM132.8,520.2l1.5,0.9v1.7l-1.5,0.9l-1.5,-0.9v-1.7zM135.5,520.2l1.5,0.9v1.7l-1.5,0.9l-1.5,-0.9v-1.7zM138.2,520.2l1.5,0.9v1.7l-1.5,0.9l-1.5,-0.9v-1.7zM140.9,520.2l1.5,0.9v1.7l-1.5,0.9l-1.5,-0.9v-1.7zM143.6,520.2l1.5,0.9v1.7l-1.5,0.9l-1.5,-0.9v-1.7zM146.2,520.2l1.5,0.9v1.7l-1.5,0.9l-1.5,-0.9v-1.7zM148.9,520.2l1.5,0.9v1.7l-1.5,0.9l-1.5,-0.9v-1.7zM153.0,522.6l1.5,0.9v1.7l-1.5,0.9l-1.5,-0.9v-1.7zM155.6,522.6l1.5,0.9v1.7l-1.5,0.9l-1.5,-0.9v-1.7zM158.3,522.6l1.5,0.9v1.7l-1.5,0.9l-1.5,-0.9v-1.7zM159.7,524.9l1.5,0.9v1.7l-1.5,0.9l-1.5,-0.9v-1.7zM162.4,524.9l1.5,0.9v1.7l-1.5,0.9l-1.5,-0.9v-1.7zM165.0,524.9l1.5,0.9v1.7l-1.5,0.9l-1.5,-0.9v-1.7zM166.4,527.2l1.5,0.9v1.7l-1.5,0.9l-1.5,-0.9v-1.7zM169.1,527.2l1.5,0.9v1.7l-1.5,0.9l-1.5,-0.9v-1.7zM171.7,527.2l1.5,0.9v1.7l-1.5,0.9l-1.5,-0.9v-1.7zM170.4,529.5l1.5,0.9v1.7l-1.5,0.9l-1.5,-0.9v-1.7zM173.1,529.5l1.5,0.9v1.7l-1.5,0.9l-1.5,-0.9v-1.7zM175.8,529.5l1.5,0.9v1.7l-1.5,0.9l-1.5,-0.9v-1.7zM177.1,531.9l1.5,0.9v1.7l-1.5,0.9l-1.5,-0.9v-1.7zM179.8,531.9l1.5,0.9v1.7l-1.5,0.9l-1.5,-0.9v-1.7zM182.5,531.9l1.5,0.9v1.7l-1.5,0.9l-1.5,-0.9v-1.7zM181.1,534.2l1.5,0.9v1.7l-1.5,0.9l-1.5,-0.9v-1.7zM183.8,534.2l1.5,0.9v1.7l-1.5,0.9l-1.5,-0.9v-1.7zM186.5,534.2l1.5,0.9v1.7l-1.5,0.9l-1.5,-0.9v-1.7zM123.4,536.5l1.5,0.9v1.7l-1.5,0.9l-1.5,-0.9v-1.7zM185.2,536.5l1.5,0.9v1.7l-1.5,0.9l-1.5,-0.9v-1.7zM187.9,536.5l1.5,0.9v1.7l-1.5,0.9l-1.5,-0.9v-1.7zM190.5,536.5l1.5,0.9v1.7l-1.5,0.9l-1.5,-0.9v-1.7zM127.5,538.8l1.5,0.9v1.7l-1.5,0.9l-1.5,-0.9v-1.7zM189.2,538.8l1.5,0.9v1.7l-1.5,0.9l-1.5,-0.9v-1.7zM191.9,538.8l1.5,0.9v1.7l-1.5,0.9l-1.5,-0.9v-1.7zM128.8,541.2l1.5,0.9v1.7l-1.5,0.9l-1.5,-0.9v-1.7zM131.5,541.2l1.5,0.9v1.7l-1.5,0.9l-1.5,-0.9v-1.7zM134.2,541.2l1.5,0.9v1.7l-1.5,0.9l-1.5,-0.9v-1.7zM193.2,541.2l1.5,0.9v1.7l-1.5,0.9l-1.5,-0.9v-1.7zM195.9,541.2l1.5,0.9v1.7l-1.5,0.9l-1.5,-0.9v-1.7zM132.8,543.5l1.5,0.9v1.7l-1.5,0.9l-1.5,-0.9v-1.7zM135.5,543.5l1.5,0.9v1.7l-1.5,0.9l-1.5,-0.9v-1.7zM138.2,543.5l1.5,0.9v1.7l-1.5,0.9l-1.5,-0.9v-1.7zM140.9,543.5l1.5,0.9v1.7l-1.5,0.9l-1.5,-0.9v-1.7zM194.6,543.5l1.5,0.9v1.7l-1.5,0.9l-1.5,-0.9v-1.7zM197.3,543.5l1.5,0.9v1.7l-1.5,0.9l-1.5,-0.9v-1.7zM139.5,545.8l1.5,0.9v1.7l-1.5,0.9l-1.5,-0.9v-1.7zM142.2,545.8l1.5,0.9v1.7l-1.5,0.9l-1.5,-0.9v-1.7zM144.9,545.8l1.5,0.9v1.7l-1.5,0.9l-1.5,-0.9v-1.7zM147.6,545.8l1.5,0.9v1.7l-1.5,0.9l-1.5,-0.9v-1.7zM150.3,545.8l1.5,0.9v1.7l-1.5,0.9l-1.5,-0.9v-1.7zM195.9,545.8l1.5,0.9v1.7l-1.5,0.9l-1.5,-0.9v-1.7zM198.6,545.8l1.5,0.9v1.7l-1.5,0.9l-1.5,-0.9v-1.7zM143.6,548.1l1.5,0.9v1.7l-1.5,0.9l-1.5,-0.9v-1.7zM146.2,548.1l1.5,0.9v1.7l-1.5,0.9l-1.5,-0.9v-1.7zM148.9,548.1l1.5,0.9v1.7l-1.5,0.9l-1.5,-0.9v-1.7zM151.6,548.1l1.5,0.9v1.7l-1.5,0.9l-1.5,-0.9v-1.7zM154.3,548.1l1.5,0.9v1.7l-1.5,0.9l-1.5,-0.9v-1.7zM157.0,548.1l1.5,0.9v1.7l-1.5,0.9l-1.5,-0.9v-1.7zM197.3,548.1l1.5,0.9v1.7l-1.5,0.9l-1.5,-0.9v-1.7zM199.9,548.1l1.5,0.9v1.7l-1.5,0.9l-1.5,-0.9v-1.7zM202.6,548.1l1.5,0.9v1.7l-1.5,0.9l-1.5,-0.9v-1.7zM147.6,550.5l1.5,0.9v1.7l-1.5,0.9l-1.5,-0.9v-1.7zM150.3,550.5l1.5,0.9v1.7l-1.5,0.9l-1.5,-0.9v-1.7zM153.0,550.5l1.5,0.9v1.7l-1.5,0.9l-1.5,-0.9v-1.7zM155.6,550.5l1.5,0.9v1.7l-1.5,0.9l-1.5,-0.9v-1.7zM158.3,550.5l1.5,0.9v1.7l-1.5,0.9l-1.5,-0.9v-1.7zM161.0,550.5l1.5,0.9v1.7l-1.5,0.9l-1.5,-0.9v-1.7zM163.7,550.5l1.5,0.9v1.7l-1.5,0.9l-1.5,-0.9v-1.7zM166.4,550.5l1.5,0.9v1.7l-1.5,0.9l-1.5,-0.9v-1.7zM195.9,550.5l1.5,0.9v1.7l-1.5,0.9l-1.5,-0.9v-1.7zM198.6,550.5l1.5,0.9v1.7l-1.5,0.9l-1.5,-0.9v-1.7zM201.3,550.5l1.5,0.9v1.7l-1.5,0.9l-1.5,-0.9v-1.7zM204.0,550.5l1.5,0.9v1.7l-1.5,0.9l-1.5,-0.9v-1.7zM154.3,552.8l1.5,0.9v1.7l-1.5,0.9l-1.5,-0.9v-1.7zM157.0,552.8l1.5,0.9v1.7l-1.5,0.9l-1.5,-0.9v-1.7zM159.7,552.8l1.5,0.9v1.7l-1.5,0.9l-1.5,-0.9v-1.7zM162.4,552.8l1.5,0.9v1.7l-1.5,0.9l-1.5,-0.9v-1.7zM165.0,552.8l1.5,0.9v1.7l-1.5,0.9l-1.5,-0.9v-1.7zM167.7,552.8l1.5,0.9v1.7l-1.5,0.9l-1.5,-0.9v-1.7zM170.4,552.8l1.5,0.9v1.7l-1.5,0.9l-1.5,-0.9v-1.7zM173.1,552.8l1.5,0.9v1.7l-1.5,0.9l-1.5,-0.9v-1.7zM175.8,552.8l1.5,0.9v1.7l-1.5,0.9l-1.5,-0.9v-1.7zM178.5,552.8l1.5,0.9v1.7l-1.5,0.9l-1.5,-0.9v-1.7zM181.1,552.8l1.5,0.9v1.7l-1.5,0.9l-1.5,-0.9v-1.7zM183.8,552.8l1.5,0.9v1.7l-1.5,0.9l-1.5,-0.9v-1.7zM186.5,552.8l1.5,0.9v1.7l-1.5,0.9l-1.5,-0.9v-1.7zM189.2,552.8l1.5,0.9v1.7l-1.5,0.9l-1.5,-0.9v-1.7zM191.9,552.8l1.5,0.9v1.7l-1.5,0.9l-1.5,-0.9v-1.7zM194.6,552.8l1.5,0.9v1.7l-1.5,0.9l-1.5,-0.9v-1.7zM197.3,552.8l1.5,0.9v1.7l-1.5,0.9l-1.5,-0.9v-1.7zM199.9,552.8l1.5,0.9v1.7l-1.5,0.9l-1.5,-0.9v-1.7zM202.6,552.8l1.5,0.9v1.7l-1.5,0.9l-1.5,-0.9v-1.7zM205.3,552.8l1.5,0.9v1.7l-1.5,0.9l-1.5,-0.9v-1.7zM163.7,555.1l1.5,0.9v1.7l-1.5,0.9l-1.5,-0.9v-1.7zM166.4,555.1l1.5,0.9v1.7l-1.5,0.9l-1.5,-0.9v-1.7zM169.1,555.1l1.5,0.9v1.7l-1.5,0.9l-1.5,-0.9v-1.7zM171.7,555.1l1.5,0.9v1.7l-1.5,0.9l-1.5,-0.9v-1.7zM174.4,555.1l1.5,0.9v1.7l-1.5,0.9l-1.5,-0.9v-1.7zM177.1,555.1l1.5,0.9v1.7l-1.5,0.9l-1.5,-0.9v-1.7zM179.8,555.1l1.5,0.9v1.7l-1.5,0.9l-1.5,-0.9v-1.7zM182.5,555.1l1.5,0.9v1.7l-1.5,0.9l-1.5,-0.9v-1.7zM185.2,555.1l1.5,0.9v1.7l-1.5,0.9l-1.5,-0.9v-1.7zM187.9,555.1l1.5,0.9v1.7l-1.5,0.9l-1.5,-0.9v-1.7zM190.5,555.1l1.5,0.9v1.7l-1.5,0.9l-1.5,-0.9v-1.7zM193.2,555.1l1.5,0.9v1.7l-1.5,0.9l-1.5,-0.9v-1.7zM195.9,555.1l1.5,0.9v1.7l-1.5,0.9l-1.5,-0.9v-1.7zM198.6,555.1l1.5,0.9v1.7l-1.5,0.9l-1.5,-0.9v-1.7zM201.3,555.1l1.5,0.9v1.7l-1.5,0.9l-1.5,-0.9v-1.7zM204.0,555.1l1.5,0.9v1.7l-1.5,0.9l-1.5,-0.9v-1.7zM175.8,557.4l1.5,0.9v1.7l-1.5,0.9l-1.5,-0.9v-1.7zM178.5,557.4l1.5,0.9v1.7l-1.5,0.9l-1.5,-0.9v-1.7zM181.1,557.4l1.5,0.9v1.7l-1.5,0.9l-1.5,-0.9v-1.7zM183.8,557.4l1.5,0.9v1.7l-1.5,0.9l-1.5,-0.9v-1.7zM186.5,557.4l1.5,0.9v1.7l-1.5,0.9l-1.5,-0.9v-1.7zM189.2,557.4l1.5,0.9v1.7l-1.5,0.9l-1.5,-0.9v-1.7zM191.9,557.4l1.5,0.9v1.7l-1.5,0.9l-1.5,-0.9v-1.7zM194.6,557.4l1.5,0.9v1.7l-1.5,0.9l-1.5,-0.9v-1.7zM124.8,571.4l1.5,0.9v1.7l-1.5,0.9l-1.5,-0.9v-1.7zM127.5,571.4l1.5,0.9v1.7l-1.5,0.9l-1.5,-0.9v-1.7zM130.1,571.4l1.5,0.9v1.7l-1.5,0.9l-1.5,-0.9v-1.7zM132.8,571.4l1.5,0.9v1.7l-1.5,0.9l-1.5,-0.9v-1.7zM135.5,571.4l1.5,0.9v1.7l-1.5,0.9l-1.5,-0.9v-1.7zM138.2,571.4l1.5,0.9v1.7l-1.5,0.9l-1.5,-0.9v-1.7zM140.9,571.4l1.5,0.9v1.7l-1.5,0.9l-1.5,-0.9v-1.7zM143.6,571.4l1.5,0.9v1.7l-1.5,0.9l-1.5,-0.9v-1.7zM146.2,571.4l1.5,0.9v1.7l-1.5,0.9l-1.5,-0.9v-1.7zM148.9,571.4l1.5,0.9v1.7l-1.5,0.9l-1.5,-0.9v-1.7zM151.6,571.4l1.5,0.9v1.7l-1.5,0.9l-1.5,-0.9v-1.7zM154.3,571.4l1.5,0.9v1.7l-1.5,0.9l-1.5,-0.9v-1.7zM126.1,573.7l1.5,0.9v1.7l-1.5,0.9l-1.5,-0.9v-1.7zM150.3,573.7l1.5,0.9v1.7l-1.5,0.9l-1.5,-0.9v-1.7zM153.0,573.7l1.5,0.9v1.7l-1.5,0.9l-1.5,-0.9v-1.7zM155.6,573.7l1.5,0.9v1.7l-1.5,0.9l-1.5,-0.9v-1.7zM158.3,573.7l1.5,0.9v1.7l-1.5,0.9l-1.5,-0.9v-1.7zM124.8,576.0l1.5,0.9v1.7l-1.5,0.9l-1.5,-0.9v-1.7zM127.5,576.0l1.5,0.9v1.7l-1.5,0.9l-1.5,-0.9v-1.7zM148.9,576.0l1.5,0.9v1.7l-1.5,0.9l-1.5,-0.9v-1.7zM151.6,576.0l1.5,0.9v1.7l-1.5,0.9l-1.5,-0.9v-1.7zM154.3,576.0l1.5,0.9v1.7l-1.5,0.9l-1.5,-0.9v-1.7zM157.0,576.0l1.5,0.9v1.7l-1.5,0.9l-1.5,-0.9v-1.7zM126.1,578.4l1.5,0.9v1.7l-1.5,0.9l-1.5,-0.9v-1.7zM128.8,578.4l1.5,0.9v1.7l-1.5,0.9l-1.5,-0.9v-1.7zM131.5,578.4l1.5,0.9v1.7l-1.5,0.9l-1.5,-0.9v-1.7zM134.2,578.4l1.5,0.9v1.7l-1.5,0.9l-1.5,-0.9v-1.7zM136.8,578.4l1.5,0.9v1.7l-1.5,0.9l-1.5,-0.9v-1.7zM139.5,578.4l1.5,0.9v1.7l-1.5,0.9l-1.5,-0.9v-1.7zM142.2,578.4l1.5,0.9v1.7l-1.5,0.9l-1.5,-0.9v-1.7zM144.9,578.4l1.5,0.9v1.7l-1.5,0.9l-1.5,-0.9v-1.7zM147.6,578.4l1.5,0.9v1.7l-1.5,0.9l-1.5,-0.9v-1.7zM150.3,578.4l1.5,0.9v1.7l-1.5,0.9l-1.5,-0.9v-1.7z" fill="#d9e7f3"/>
<path d="M126.1,522.6l1.5,0.9v1.7l-1.5,0.9l-1.5,-0.9v-1.7zM128.8,522.6l1.5,0.9v1.7l-1.5,0.9l-1.5,-0.9v-1.7zM144.9,522.6l1.5,0.9v1.7l-1.5,0.9l-1.5,-0.9v-1.7zM147.6,522.6l1.5,0.9v1.7l-1.5,0.9l-1.5,-0.9v-1.7zM150.3,522.6l1.5,0.9v1.7l-1.5,0.9l-1.5,-0.9v-1.7zM154.3,524.9l1.5,0.9v1.7l-1.5,0.9l-1.5,-0.9v-1.7zM157.0,524.9l1.5,0.9v1.7l-1.5,0.9l-1.5,-0.9v-1.7zM120.7,527.2l1.5,0.9v1.7l-1.5,0.9l-1.5,-0.9v-1.7zM161.0,527.2l1.5,0.9v1.7l-1.5,0.9l-1.5,-0.9v-1.7zM163.7,527.2l1.5,0.9v1.7l-1.5,0.9l-1.5,-0.9v-1.7zM165.0,529.5l1.5,0.9v1.7l-1.5,0.9l-1.5,-0.9v-1.7zM167.7,529.5l1.5,0.9v1.7l-1.5,0.9l-1.5,-0.9v-1.7zM120.7,531.9l1.5,0.9v1.7l-1.5,0.9l-1.5,-0.9v-1.7zM169.1,531.9l1.5,0.9v1.7l-1.5,0.9l-1.5,-0.9v-1.7zM171.7,531.9l1.5,0.9v1.7l-1.5,0.9l-1.5,-0.9v-1.7zM174.4,531.9l1.5,0.9v1.7l-1.5,0.9l-1.5,-0.9v-1.7zM122.1,534.2l1.5,0.9v1.7l-1.5,0.9l-1.5,-0.9v-1.7zM173.1,534.2l1.5,0.9v1.7l-1.5,0.9l-1.5,-0.9v-1.7zM175.8,534.2l1.5,0.9v1.7l-1.5,0.9l-1.5,-0.9v-1.7zM178.5,534.2l1.5,0.9v1.7l-1.5,0.9l-1.5,-0.9v-1.7zM126.1,536.5l1.5,0.9v1.7l-1.5,0.9l-1.5,-0.9v-1.7zM177.1,536.5l1.5,0.9v1.7l-1.5,0.9l-1.5,-0.9v-1.7zM179.8,536.5l1.5,0.9v1.7l-1.5,0.9l-1.5,-0.9v-1.7zM182.5,536.5l1.5,0.9v1.7l-1.5,0.9l-1.5,-0.9v-1.7zM130.1,538.8l1.5,0.9v1.7l-1.5,0.9l-1.5,-0.9v-1.7zM132.8,538.8l1.5,0.9v1.7l-1.5,0.9l-1.5,-0.9v-1.7zM181.1,538.8l1.5,0.9v1.7l-1.5,0.9l-1.5,-0.9v-1.7zM183.8,538.8l1.5,0.9v1.7l-1.5,0.9l-1.5,-0.9v-1.7zM186.5,538.8l1.5,0.9v1.7l-1.5,0.9l-1.5,-0.9v-1.7zM136.8,541.2l1.5,0.9v1.7l-1.5,0.9l-1.5,-0.9v-1.7zM139.5,541.2l1.5,0.9v1.7l-1.5,0.9l-1.5,-0.9v-1.7zM142.2,541.2l1.5,0.9v1.7l-1.5,0.9l-1.5,-0.9v-1.7zM182.5,541.2l1.5,0.9v1.7l-1.5,0.9l-1.5,-0.9v-1.7zM185.2,541.2l1.5,0.9v1.7l-1.5,0.9l-1.5,-0.9v-1.7zM187.9,541.2l1.5,0.9v1.7l-1.5,0.9l-1.5,-0.9v-1.7zM190.5,541.2l1.5,0.9v1.7l-1.5,0.9l-1.5,-0.9v-1.7zM143.6,543.5l1.5,0.9v1.7l-1.5,0.9l-1.5,-0.9v-1.7zM146.2,543.5l1.5,0.9v1.7l-1.5,0.9l-1.5,-0.9v-1.7zM148.9,543.5l1.5,0.9v1.7l-1.5,0.9l-1.5,-0.9v-1.7zM151.6,543.5l1.5,0.9v1.7l-1.5,0.9l-1.5,-0.9v-1.7zM183.8,543.5l1.5,0.9v1.7l-1.5,0.9l-1.5,-0.9v-1.7zM186.5,543.5l1.5,0.9v1.7l-1.5,0.9l-1.5,-0.9v-1.7zM189.2,543.5l1.5,0.9v1.7l-1.5,0.9l-1.5,-0.9v-1.7zM191.9,543.5l1.5,0.9v1.7l-1.5,0.9l-1.5,-0.9v-1.7zM153.0,545.8l1.5,0.9v1.7l-1.5,0.9l-1.5,-0.9v-1.7zM155.6,545.8l1.5,0.9v1.7l-1.5,0.9l-1.5,-0.9v-1.7zM158.3,545.8l1.5,0.9v1.7l-1.5,0.9l-1.5,-0.9v-1.7zM161.0,545.8l1.5,0.9v1.7l-1.5,0.9l-1.5,-0.9v-1.7zM163.7,545.8l1.5,0.9v1.7l-1.5,0.9l-1.5,-0.9v-1.7zM166.4,545.8l1.5,0.9v1.7l-1.5,0.9l-1.5,-0.9v-1.7zM185.2,545.8l1.5,0.9v1.7l-1.5,0.9l-1.5,-0.9v-1.7zM187.9,545.8l1.5,0.9v1.7l-1.5,0.9l-1.5,-0.9v-1.7zM190.5,545.8l1.5,0.9v1.7l-1.5,0.9l-1.5,-0.9v-1.7zM193.2,545.8l1.5,0.9v1.7l-1.5,0.9l-1.5,-0.9v-1.7zM159.7,548.1l1.5,0.9v1.7l-1.5,0.9l-1.5,-0.9v-1.7zM162.4,548.1l1.5,0.9v1.7l-1.5,0.9l-1.5,-0.9v-1.7zM165.0,548.1l1.5,0.9v1.7l-1.5,0.9l-1.5,-0.9v-1.7zM167.7,548.1l1.5,0.9v1.7l-1.5,0.9l-1.5,-0.9v-1.7zM170.4,548.1l1.5,0.9v1.7l-1.5,0.9l-1.5,-0.9v-1.7zM173.1,548.1l1.5,0.9v1.7l-1.5,0.9l-1.5,-0.9v-1.7zM175.8,548.1l1.5,0.9v1.7l-1.5,0.9l-1.5,-0.9v-1.7zM178.5,548.1l1.5,0.9v1.7l-1.5,0.9l-1.5,-0.9v-1.7zM181.1,548.1l1.5,0.9v1.7l-1.5,0.9l-1.5,-0.9v-1.7zM183.8,548.1l1.5,0.9v1.7l-1.5,0.9l-1.5,-0.9v-1.7zM186.5,548.1l1.5,0.9v1.7l-1.5,0.9l-1.5,-0.9v-1.7zM189.2,548.1l1.5,0.9v1.7l-1.5,0.9l-1.5,-0.9v-1.7zM191.9,548.1l1.5,0.9v1.7l-1.5,0.9l-1.5,-0.9v-1.7zM194.6,548.1l1.5,0.9v1.7l-1.5,0.9l-1.5,-0.9v-1.7zM169.1,550.5l1.5,0.9v1.7l-1.5,0.9l-1.5,-0.9v-1.7zM171.7,550.5l1.5,0.9v1.7l-1.5,0.9l-1.5,-0.9v-1.7zM174.4,550.5l1.5,0.9v1.7l-1.5,0.9l-1.5,-0.9v-1.7zM177.1,550.5l1.5,0.9v1.7l-1.5,0.9l-1.5,-0.9v-1.7zM179.8,550.5l1.5,0.9v1.7l-1.5,0.9l-1.5,-0.9v-1.7zM182.5,550.5l1.5,0.9v1.7l-1.5,0.9l-1.5,-0.9v-1.7zM185.2,550.5l1.5,0.9v1.7l-1.5,0.9l-1.5,-0.9v-1.7zM187.9,550.5l1.5,0.9v1.7l-1.5,0.9l-1.5,-0.9v-1.7zM190.5,550.5l1.5,0.9v1.7l-1.5,0.9l-1.5,-0.9v-1.7zM193.2,550.5l1.5,0.9v1.7l-1.5,0.9l-1.5,-0.9v-1.7zM128.8,573.7l1.5,0.9v1.7l-1.5,0.9l-1.5,-0.9v-1.7zM131.5,573.7l1.5,0.9v1.7l-1.5,0.9l-1.5,-0.9v-1.7zM134.2,573.7l1.5,0.9v1.7l-1.5,0.9l-1.5,-0.9v-1.7zM136.8,573.7l1.5,0.9v1.7l-1.5,0.9l-1.5,-0.9v-1.7zM139.5,573.7l1.5,0.9v1.7l-1.5,0.9l-1.5,-0.9v-1.7zM142.2,573.7l1.5,0.9v1.7l-1.5,0.9l-1.5,-0.9v-1.7zM144.9,573.7l1.5,0.9v1.7l-1.5,0.9l-1.5,-0.9v-1.7zM147.6,573.7l1.5,0.9v1.7l-1.5,0.9l-1.5,-0.9v-1.7zM130.1,576.0l1.5,0.9v1.7l-1.5,0.9l-1.5,-0.9v-1.7zM132.8,576.0l1.5,0.9v1.7l-1.5,0.9l-1.5,-0.9v-1.7zM135.5,576.0l1.5,0.9v1.7l-1.5,0.9l-1.5,-0.9v-1.7zM138.2,576.0l1.5,0.9v1.7l-1.5,0.9l-1.5,-0.9v-1.7zM140.9,576.0l1.5,0.9v1.7l-1.5,0.9l-1.5,-0.9v-1.7zM143.6,576.0l1.5,0.9v1.7l-1.5,0.9l-1.5,-0.9v-1.7zM146.2,576.0l1.5,0.9v1.7l-1.5,0.9l-1.5,-0.9v-1.7z" fill="#d2e2f2"/>
<path d="M131.5,522.6l1.5,0.9v1.7l-1.5,0.9l-1.5,-0.9v-1.7zM134.2,522.6l1.5,0.9v1.7l-1.5,0.9l-1.5,-0.9v-1.7zM136.8,522.6l1.5,0.9v1.7l-1.5,0.9l-1.5,-0.9v-1.7zM139.5,522.6l1.5,0.9v1.7l-1.5,0.9l-1.5,-0.9v-1.7zM142.2,522.6l1.5,0.9v1.7l-1.5,0.9l-1.5,-0.9v-1.7zM124.8,524.9l1.5,0.9v1.7l-1.5,0.9l-1.5,-0.9v-1.7zM151.6,524.9l1.5,0.9v1.7l-1.5,0.9l-1.5,-0.9v-1.7zM158.3,527.2l1.5,0.9v1.7l-1.5,0.9l-1.5,-0.9v-1.7zM122.1,529.5l1.5,0.9v1.7l-1.5,0.9l-1.5,-0.9v-1.7zM162.4,529.5l1.5,0.9v1.7l-1.5,0.9l-1.5,-0.9v-1.7zM166.4,531.9l1.5,0.9v1.7l-1.5,0.9l-1.5,-0.9v-1.7zM124.8,534.2l1.5,0.9v1.7l-1.5,0.9l-1.5,-0.9v-1.7zM170.4,534.2l1.5,0.9v1.7l-1.5,0.9l-1.5,-0.9v-1.7zM128.8,536.5l1.5,0.9v1.7l-1.5,0.9l-1.5,-0.9v-1.7zM171.7,536.5l1.5,0.9v1.7l-1.5,0.9l-1.5,-0.9v-1.7zM174.4,536.5l1.5,0.9v1.7l-1.5,0.9l-1.5,-0.9v-1.7zM135.5,538.8l1.5,0.9v1.7l-1.5,0.9l-1.5,-0.9v-1.7zM138.2,538.8l1.5,0.9v1.7l-1.5,0.9l-1.5,-0.9v-1.7zM173.1,538.8l1.5,0.9v1.7l-1.5,0.9l-1.5,-0.9v-1.7zM175.8,538.8l1.5,0.9v1.7l-1.5,0.9l-1.5,-0.9v-1.7zM178.5,538.8l1.5,0.9v1.7l-1.5,0.9l-1.5,-0.9v-1.7zM144.9,541.2l1.5,0.9v1.7l-1.5,0.9l-1.5,-0.9v-1.7zM147.6,541.2l1.5,0.9v1.7l-1.5,0.9l-1.5,-0.9v-1.7zM150.3,541.2l1.5,0.9v1.7l-1.5,0.9l-1.5,-0.9v-1.7zM174.4,541.2l1.5,0.9v1.7l-1.5,0.9l-1.5,-0.9v-1.7zM177.1,541.2l1.5,0.9v1.7l-1.5,0.9l-1.5,-0.9v-1.7zM179.8,541.2l1.5,0.9v1.7l-1.5,0.9l-1.5,-0.9v-1.7zM154.3,543.5l1.5,0.9v1.7l-1.5,0.9l-1.5,-0.9v-1.7zM157.0,543.5l1.5,0.9v1.7l-1.5,0.9l-1.5,-0.9v-1.7zM159.7,543.5l1.5,0.9v1.7l-1.5,0.9l-1.5,-0.9v-1.7zM162.4,543.5l1.5,0.9v1.7l-1.5,0.9l-1.5,-0.9v-1.7zM165.0,543.5l1.5,0.9v1.7l-1.5,0.9l-1.5,-0.9v-1.7zM167.7,543.5l1.5,0.9v1.7l-1.5,0.9l-1.5,-0.9v-1.7zM170.4,543.5l1.5,0.9v1.7l-1.5,0.9l-1.5,-0.9v-1.7zM173.1,543.5l1.5,0.9v1.7l-1.5,0.9l-1.5,-0.9v-1.7zM175.8,543.5l1.5,0.9v1.7l-1.5,0.9l-1.5,-0.9v-1.7zM178.5,543.5l1.5,0.9v1.7l-1.5,0.9l-1.5,-0.9v-1.7zM181.1,543.5l1.5,0.9v1.7l-1.5,0.9l-1.5,-0.9v-1.7zM169.1,545.8l1.5,0.9v1.7l-1.5,0.9l-1.5,-0.9v-1.7zM171.7,545.8l1.5,0.9v1.7l-1.5,0.9l-1.5,-0.9v-1.7zM174.4,545.8l1.5,0.9v1.7l-1.5,0.9l-1.5,-0.9v-1.7zM177.1,545.8l1.5,0.9v1.7l-1.5,0.9l-1.5,-0.9v-1.7zM179.8,545.8l1.5,0.9v1.7l-1.5,0.9l-1.5,-0.9v-1.7zM182.5,545.8l1.5,0.9v1.7l-1.5,0.9l-1.5,-0.9v-1.7z" fill="#cadef0"/>
<path d="M127.5,524.9l1.5,0.9v1.7l-1.5,0.9l-1.5,-0.9v-1.7zM148.9,524.9l1.5,0.9v1.7l-1.5,0.9l-1.5,-0.9v-1.7zM123.4,527.2l1.5,0.9v1.7l-1.5,0.9l-1.5,-0.9v-1.7zM155.6,527.2l1.5,0.9v1.7l-1.5,0.9l-1.5,-0.9v-1.7zM159.7,529.5l1.5,0.9v1.7l-1.5,0.9l-1.5,-0.9v-1.7zM123.4,531.9l1.5,0.9v1.7l-1.5,0.9l-1.5,-0.9v-1.7zM163.7,531.9l1.5,0.9v1.7l-1.5,0.9l-1.5,-0.9v-1.7zM167.7,534.2l1.5,0.9v1.7l-1.5,0.9l-1.5,-0.9v-1.7zM131.5,536.5l1.5,0.9v1.7l-1.5,0.9l-1.5,-0.9v-1.7zM169.1,536.5l1.5,0.9v1.7l-1.5,0.9l-1.5,-0.9v-1.7zM140.9,538.8l1.5,0.9v1.7l-1.5,0.9l-1.5,-0.9v-1.7zM167.7,538.8l1.5,0.9v1.7l-1.5,0.9l-1.5,-0.9v-1.7zM170.4,538.8l1.5,0.9v1.7l-1.5,0.9l-1.5,-0.9v-1.7zM153.0,541.2l1.5,0.9v1.7l-1.5,0.9l-1.5,-0.9v-1.7zM155.6,541.2l1.5,0.9v1.7l-1.5,0.9l-1.5,-0.9v-1.7zM158.3,541.2l1.5,0.9v1.7l-1.5,0.9l-1.5,-0.9v-1.7zM161.0,541.2l1.5,0.9v1.7l-1.5,0.9l-1.5,-0.9v-1.7zM163.7,541.2l1.5,0.9v1.7l-1.5,0.9l-1.5,-0.9v-1.7zM166.4,541.2l1.5,0.9v1.7l-1.5,0.9l-1.5,-0.9v-1.7zM169.1,541.2l1.5,0.9v1.7l-1.5,0.9l-1.5,-0.9v-1.7zM171.7,541.2l1.5,0.9v1.7l-1.5,0.9l-1.5,-0.9v-1.7z" fill="#c2d9ed"/>
<path d="M146.2,524.9l1.5,0.9v1.7l-1.5,0.9l-1.5,-0.9v-1.7zM153.0,527.2l1.5,0.9v1.7l-1.5,0.9l-1.5,-0.9v-1.7zM124.8,529.5l1.5,0.9v1.7l-1.5,0.9l-1.5,-0.9v-1.7zM157.0,529.5l1.5,0.9v1.7l-1.5,0.9l-1.5,-0.9v-1.7zM161.0,531.9l1.5,0.9v1.7l-1.5,0.9l-1.5,-0.9v-1.7zM127.5,534.2l1.5,0.9v1.7l-1.5,0.9l-1.5,-0.9v-1.7zM165.0,534.2l1.5,0.9v1.7l-1.5,0.9l-1.5,-0.9v-1.7zM134.2,536.5l1.5,0.9v1.7l-1.5,0.9l-1.5,-0.9v-1.7zM163.7,536.5l1.5,0.9v1.7l-1.5,0.9l-1.5,-0.9v-1.7zM166.4,536.5l1.5,0.9v1.7l-1.5,0.9l-1.5,-0.9v-1.7zM143.6,538.8l1.5,0.9v1.7l-1.5,0.9l-1.5,-0.9v-1.7zM146.2,538.8l1.5,0.9v1.7l-1.5,0.9l-1.5,-0.9v-1.7zM162.4,538.8l1.5,0.9v1.7l-1.5,0.9l-1.5,-0.9v-1.7zM165.0,538.8l1.5,0.9v1.7l-1.5,0.9l-1.5,-0.9v-1.7z" fill="#b6d4ea"/>
<path d="M130.1,524.9l1.5,0.9v1.7l-1.5,0.9l-1.5,-0.9v-1.7zM143.6,524.9l1.5,0.9v1.7l-1.5,0.9l-1.5,-0.9v-1.7zM126.1,527.2l1.5,0.9v1.7l-1.5,0.9l-1.5,-0.9v-1.7zM150.3,527.2l1.5,0.9v1.7l-1.5,0.9l-1.5,-0.9v-1.7zM126.1,531.9l1.5,0.9v1.7l-1.5,0.9l-1.5,-0.9v-1.7zM158.3,531.9l1.5,0.9v1.7l-1.5,0.9l-1.5,-0.9v-1.7zM162.4,534.2l1.5,0.9v1.7l-1.5,0.9l-1.5,-0.9v-1.7zM161.0,536.5l1.5,0.9v1.7l-1.5,0.9l-1.5,-0.9v-1.7zM148.9,538.8l1.5,0.9v1.7l-1.5,0.9l-1.5,-0.9v-1.7zM151.6,538.8l1.5,0.9v1.7l-1.5,0.9l-1.5,-0.9v-1.7zM154.3,538.8l1.5,0.9v1.7l-1.5,0.9l-1.5,-0.9v-1.7zM157.0,538.8l1.5,0.9v1.7l-1.5,0.9l-1.5,-0.9v-1.7zM159.7,538.8l1.5,0.9v1.7l-1.5,0.9l-1.5,-0.9v-1.7z" fill="#abd0e6"/>
<path d="M132.8,524.9l1.5,0.9v1.7l-1.5,0.9l-1.5,-0.9v-1.7zM140.9,524.9l1.5,0.9v1.7l-1.5,0.9l-1.5,-0.9v-1.7zM154.3,529.5l1.5,0.9v1.7l-1.5,0.9l-1.5,-0.9v-1.7zM130.1,534.2l1.5,0.9v1.7l-1.5,0.9l-1.5,-0.9v-1.7zM159.7,534.2l1.5,0.9v1.7l-1.5,0.9l-1.5,-0.9v-1.7zM136.8,536.5l1.5,0.9v1.7l-1.5,0.9l-1.5,-0.9v-1.7zM158.3,536.5l1.5,0.9v1.7l-1.5,0.9l-1.5,-0.9v-1.7z" fill="#a0cbe2"/>
<path d="M135.5,524.9l1.5,0.9v1.7l-1.5,0.9l-1.5,-0.9v-1.7zM138.2,524.9l1.5,0.9v1.7l-1.5,0.9l-1.5,-0.9v-1.7zM147.6,527.2l1.5,0.9v1.7l-1.5,0.9l-1.5,-0.9v-1.7zM155.6,531.9l1.5,0.9v1.7l-1.5,0.9l-1.5,-0.9v-1.7zM157.0,534.2l1.5,0.9v1.7l-1.5,0.9l-1.5,-0.9v-1.7zM139.5,536.5l1.5,0.9v1.7l-1.5,0.9l-1.5,-0.9v-1.7zM153.0,536.5l1.5,0.9v1.7l-1.5,0.9l-1.5,-0.9v-1.7zM155.6,536.5l1.5,0.9v1.7l-1.5,0.9l-1.5,-0.9v-1.7z" fill="#93c4df"/>
<path d="M128.8,527.2l1.5,0.9v1.7l-1.5,0.9l-1.5,-0.9v-1.7zM127.5,529.5l1.5,0.9v1.7l-1.5,0.9l-1.5,-0.9v-1.7zM151.6,529.5l1.5,0.9v1.7l-1.5,0.9l-1.5,-0.9v-1.7zM128.8,531.9l1.5,0.9v1.7l-1.5,0.9l-1.5,-0.9v-1.7zM154.3,534.2l1.5,0.9v1.7l-1.5,0.9l-1.5,-0.9v-1.7zM142.2,536.5l1.5,0.9v1.7l-1.5,0.9l-1.5,-0.9v-1.7zM144.9,536.5l1.5,0.9v1.7l-1.5,0.9l-1.5,-0.9v-1.7zM147.6,536.5l1.5,0.9v1.7l-1.5,0.9l-1.5,-0.9v-1.7zM150.3,536.5l1.5,0.9v1.7l-1.5,0.9l-1.5,-0.9v-1.7z" fill="#84bcdc"/>
<path d="M153.0,531.9l1.5,0.9v1.7l-1.5,0.9l-1.5,-0.9v-1.7zM132.8,534.2l1.5,0.9v1.7l-1.5,0.9l-1.5,-0.9v-1.7z" fill="#76b4d8"/>
<path d="M144.9,527.2l1.5,0.9v1.7l-1.5,0.9l-1.5,-0.9v-1.7zM148.9,529.5l1.5,0.9v1.7l-1.5,0.9l-1.5,-0.9v-1.7zM151.6,534.2l1.5,0.9v1.7l-1.5,0.9l-1.5,-0.9v-1.7z" fill="#69acd5"/>
<path d="M131.5,527.2l1.5,0.9v1.7l-1.5,0.9l-1.5,-0.9v-1.7zM150.3,531.9l1.5,0.9v1.7l-1.5,0.9l-1.5,-0.9v-1.7zM148.9,534.2l1.5,0.9v1.7l-1.5,0.9l-1.5,-0.9v-1.7z" fill="#5da5d1"/>
<path d="M142.2,527.2l1.5,0.9v1.7l-1.5,0.9l-1.5,-0.9v-1.7zM130.1,529.5l1.5,0.9v1.7l-1.5,0.9l-1.5,-0.9v-1.7zM146.2,534.2l1.5,0.9v1.7l-1.5,0.9l-1.5,-0.9v-1.7z" fill="#529dcc"/>
<path d="M146.2,529.5l1.5,0.9v1.7l-1.5,0.9l-1.5,-0.9v-1.7zM135.5,534.2l1.5,0.9v1.7l-1.5,0.9l-1.5,-0.9v-1.7zM143.6,534.2l1.5,0.9v1.7l-1.5,0.9l-1.5,-0.9v-1.7z" fill="#4795c8"/>
<path d="M131.5,531.9l1.5,0.9v1.7l-1.5,0.9l-1.5,-0.9v-1.7zM147.6,531.9l1.5,0.9v1.7l-1.5,0.9l-1.5,-0.9v-1.7zM138.2,534.2l1.5,0.9v1.7l-1.5,0.9l-1.5,-0.9v-1.7zM140.9,534.2l1.5,0.9v1.7l-1.5,0.9l-1.5,-0.9v-1.7z" fill="#3c8cc3"/>
<path d="M134.2,527.2l1.5,0.9v1.7l-1.5,0.9l-1.5,-0.9v-1.7zM139.5,527.2l1.5,0.9v1.7l-1.5,0.9l-1.5,-0.9v-1.7z" fill="#3383be"/>
<path d="M143.6,529.5l1.5,0.9v1.7l-1.5,0.9l-1.5,-0.9v-1.7zM144.9,531.9l1.5,0.9v1.7l-1.5,0.9l-1.5,-0.9v-1.7z" fill="#2a7aba"/>
<path d="M136.8,527.2l1.5,0.9v1.7l-1.5,0.9l-1.5,-0.9v-1.7z" fill="#2171b5"/>
<path d="M132.8,529.5l1.5,0.9v1.7l-1.5,0.9l-1.5,-0.9v-1.7zM142.2,531.9l1.5,0.9v1.7l-1.5,0.9l-1.5,-0.9v-1.7z" fill="#115ca5"/>
<path d="M140.9,529.5l1.5,0.9v1.7l-1.5,0.9l-1.5,-0.9v-1.7zM134.2,531.9l1.5,0.9v1.7l-1.5,0.9l-1.5,-0.9v-1.7z" fill="#08478d"/>
<path d="M135.5,529.5l1.5,0.9v1.7l-1.5,0.9l-1.5,-0.9v-1.7zM138.2,529.5l1.5,0.9v1.7l-1.5,0.9l-1.5,-0.9v-1.7zM136.8,531.9l1.5,0.9v1.7l-1.5,0.9l-1.5,-0.9v-1.7zM139.5,531.9l1.5,0.9v1.7l-1.5,0.9l-1.5,-0.9v-1.7z" fill="#08306b"/>
<text x="343.6" y="346.8" text-anchor="start" font-size="18.5" font-weight="bold" fill="#111">d</text>
<line x1="396.5" y1="348" x2="396.5" y2="430.2" stroke="#2a2a2a" stroke-width="1.1"/>
<line x1="394.2" y1="426.9" x2="396.5" y2="426.9" stroke="#2a2a2a" stroke-width="1"/>
<text transform="translate(392.7,426.9) rotate(-90)" text-anchor="middle" font-size="7.1" fill="#444444">0</text>
<line x1="394.2" y1="402.5" x2="396.5" y2="402.5" stroke="#2a2a2a" stroke-width="1"/>
<text transform="translate(392.7,402.5) rotate(-90)" text-anchor="middle" font-size="7.1" fill="#444444">200</text>
<line x1="394.2" y1="378.2" x2="396.5" y2="378.2" stroke="#2a2a2a" stroke-width="1"/>
<text transform="translate(392.7,378.2) rotate(-90)" text-anchor="middle" font-size="7.1" fill="#444444">400</text>
<line x1="394.2" y1="353.8" x2="396.5" y2="353.8" stroke="#2a2a2a" stroke-width="1"/>
<text transform="translate(392.7,353.8) rotate(-90)" text-anchor="middle" font-size="7.1" fill="#444444">600</text>
<line x1="405.9" y1="426.7" x2="590.8" y2="426.7" stroke="#444" stroke-width="1.4"/>
<path d="M487.6,426.7V424.4H488.6V418.2H489.5V411.8H490.4V404.0H491.4V398.2H492.3V384.6H493.3V375.8H494.2V366.5H495.2V358.4H496.1V356.9H497.1V352.5H498.0V352.6H499.0V352.9H499.9V354.4H500.9V354.8H501.8V363.2H502.8V370.2H503.7V371.5H504.7V374.9H505.6V375.9H506.6V379.8H507.5V381.5H508.5V383.0H509.4V385.0H510.4V386.6H511.3V389.4H512.3V393.0H513.2V392.3H514.2V395.3H515.1V395.9H516.1V398.2H517.0V400.1H518.0V401.6H519.0V402.6H519.9V404.2H520.9V406.2H521.8V404.5H522.8V405.5H523.7V405.8H524.7V407.9H525.6V409.4H526.6V409.4H527.5V412.3H528.5V410.9H529.4V412.3H530.4V413.9H531.3V414.4H532.3V413.9H533.2V415.0H534.2V414.7H535.1V414.6H536.1V415.6H537.0V416.6H538.0V415.9H538.9V416.9H539.9V417.2H540.8V417.6H541.8V417.5H542.7V418.5H543.7V417.5H544.6V417.2H545.6V418.7H546.5V418.4H547.5V418.3H548.4V420.3H549.4V420.4H550.3V419.7H551.3V420.0H552.2V420.7H553.2V421.8H554.1V421.8H555.1V421.7H556.0V422.1H557.0V422.6H557.9V423.5H558.9V423.2H559.8V423.8H560.8V423.7H561.7V424.3H562.7V423.9H563.6V424.4H564.6V424.5H565.5V424.9H566.5V424.9H567.4V425.1H568.4V425.2H569.3V425.4H570.3V425.4H571.2V425.6H572.2V425.7H573.1V425.9H574.1V425.9H575.0V426.1H576.0V426.2H576.9V426.4H577.9V426.7H578.8V426.7Z" fill="#0a0a0a"/>
<line x1="396.7" y1="437.6" x2="396.7" y2="633.4" stroke="#2a2a2a" stroke-width="1.2"/>
<line x1="394.6" y1="624.4" x2="396.9" y2="624.4" stroke="#2a2a2a" stroke-width="1"/>
<text transform="translate(393.8,624.4) rotate(-90)" text-anchor="middle" font-size="8.4" fill="#444444">0</text>
<line x1="394.6" y1="557.4" x2="396.9" y2="557.4" stroke="#2a2a2a" stroke-width="1"/>
<text transform="translate(393.8,557.4) rotate(-90)" text-anchor="middle" font-size="8.4" fill="#444444">50</text>
<line x1="394.6" y1="490.5" x2="396.9" y2="490.5" stroke="#2a2a2a" stroke-width="1"/>
<text transform="translate(393.8,490.5) rotate(-90)" text-anchor="middle" font-size="8.4" fill="#444444">100</text>
<line x1="396.4" y1="633.4" x2="590.2" y2="633.4" stroke="#2a2a2a" stroke-width="1.1"/>
<line x1="404.6" y1="633.4" x2="404.6" y2="635.6" stroke="#2a2a2a" stroke-width="1"/>
<text x="405.4" y="643.6" text-anchor="middle" font-size="8.4" fill="#444444">0</text>
<line x1="452.4" y1="633.4" x2="452.4" y2="635.6" stroke="#2a2a2a" stroke-width="1"/>
<text x="453.2" y="643.6" text-anchor="middle" font-size="8.4" fill="#444444">0.2</text>
<line x1="500.1" y1="633.4" x2="500.1" y2="635.6" stroke="#2a2a2a" stroke-width="1"/>
<text x="500.9" y="643.6" text-anchor="middle" font-size="8.4" fill="#444444">0.4</text>
<line x1="547.9" y1="633.4" x2="547.9" y2="635.6" stroke="#2a2a2a" stroke-width="1"/>
<text x="548.6" y="643.6" text-anchor="middle" font-size="8.4" fill="#444444">0.6</text>
<text x="495.6" y="665" text-anchor="middle" font-size="10" font-weight="bold" fill="#1a1a1a">GC</text>
<text transform="translate(377.6,520) rotate(-90)" text-anchor="middle" font-size="9.6" font-weight="bold" fill="#1a1a1a">Sequencing depth</text>
<line x1="601.6" y1="437.9" x2="601.6" y2="623.4" stroke="#0a0a0a" stroke-width="1.5"/>
<path d="M601.6,480H601.6V481.1H601.6V482.2H601.6V483.3H601.7V484.4H601.7V485.5H601.7V486.6H601.7V487.7H601.7V488.8H601.7V489.9H601.8V491.0H601.8V492.1H601.8V493.2H601.9V494.3H602.0V495.4H602.1V496.5H602.2V497.6H602.4V498.7H602.5V499.8H602.8V500.9H602.9V502.0H603.2V503.1H603.5V504.2H603.7V505.3H604.5V506.4H605.0V507.5H605.9V508.6H607.0V509.7H609.1V510.8H611.6V511.9H615.1V513.0H617.7V514.1H620.3V515.2H621.5V516.3H628.4V517.4H630.6V518.5H634.5V519.6H638.0V520.7H643.0V521.8H646.5V522.9H652.1V524.0H656.7V525.1H662.5V526.2H666.3V527.3H668.4V528.4H670.6V529.5H673.5V530.6H676.8V531.7H670.1V532.8H669.3V533.9H665.1V535.0H664.7V536.1H661.0V537.2H659.5V538.3H655.5V539.4H653.9V540.5H650.3V541.6H647.1V542.7H646.5V543.8H643.0V544.9H639.5V546.0H636.2V547.1H634.3V548.2H633.0V549.3H630.7V550.4H629.6V551.5H628.1V552.6H626.8V553.7H626.0V554.8H624.1V555.9H621.5V557.0H620.4V558.1H618.4V559.2H618.2V560.3H617.5V561.4H616.1V562.5H615.0V563.6H615.2V564.7H614.1V565.8H614.3V566.9H614.5V568.0H613.7V569.1H613.8V570.2H614.2V571.3H615.1V572.4H615.8V573.5H617.1V574.6H616.8V575.7H615.0V576.8H613.4V577.9H612.7V579.0H612.7V580.1H611.2V581.2H610.4V582.3H609.7V583.4H609.0V584.5H608.1V585.6H606.4V586.7H605.8V587.8H605.3V588.9H604.7V590.0H604.6V591.1H604.0V592.2H603.7V593.3H603.1V594.4H602.7V595.5H602.7V596.6H602.7V597.7H602.6V598.8H602.4V599.9H602.3V601.0H602.1V602.1H602.1V603.2H602.1V604.3H602.0V605.4H602.0V606.5H601.9V607.6H601.9V608.7H601.8V609.8H601.8V610.9H601.8V612.0H601.8V613.1H601.7V614.2H601.7V615.3H601.7V616.4H601.7V617.5H601.7V618.6H601.7V619.7H601.6V620.8H601.6V621.9H601.6V623.0H601.6Z" fill="#0a0a0a"/>
<line x1="597.2" y1="633.2" x2="679.3" y2="633.2" stroke="#2a2a2a" stroke-width="1.1"/>
<line x1="601.4" y1="633.2" x2="601.4" y2="635.2" stroke="#2a2a2a" stroke-width="1"/>
<text x="601.9" y="642.4" text-anchor="middle" font-size="7" fill="#444444">0</text>
<line x1="617.4" y1="633.2" x2="617.4" y2="635.2" stroke="#2a2a2a" stroke-width="1"/>
<line x1="633.4" y1="633.2" x2="633.4" y2="635.2" stroke="#2a2a2a" stroke-width="1"/>
<text x="633.9" y="642.4" text-anchor="middle" font-size="7" fill="#444444">1000</text>
<line x1="649.3" y1="633.2" x2="649.3" y2="635.2" stroke="#2a2a2a" stroke-width="1"/>
<line x1="665.3" y1="633.2" x2="665.3" y2="635.2" stroke="#2a2a2a" stroke-width="1"/>
<text x="665.8" y="642.4" text-anchor="middle" font-size="7" fill="#444444">2000</text>
<path d="M493,441.5 496,440.4 502,440.1 508,440.3 513,440.7 515,442.4 514,446 512.5,452 513.5,459 515.5,466 517,473 518,480 520,487 521.5,494 523,500 526,506 531,511 537,515 544,520 548.5,527 549.5,535 552,545 557,552 562,558 567.5,564 572,570 576.5,575 580.5,580.5 583.5,587 585,593 584.5,600 583,605.5 578,607.5 570,608.5 565,606 558,603.5 550,602 541,600 530,599.5 518,599.5 508,599.5 499,597.5 494.5,592 492,587 489.5,581 488,574 487.5,566 486.8,558 487,548 486.5,540 484,534 482.5,528 483.5,520 484.5,513 487,506 490,501 492,495 492.2,485 492.5,470 492.3,455 492.5,447Z" fill="#e0ebf5"/>
<path d="M499.3,439.3a1.6,1.6 0 1,0 3.2,0a1.6,1.6 0 1,0 -3.2,0M500.0,439.6a1.6,1.6 0 1,0 3.2,0a1.6,1.6 0 1,0 -3.2,0M506.0,438.7a1.6,1.6 0 1,0 3.2,0a1.6,1.6 0 1,0 -3.2,0M511.4,440.0a1.6,1.6 0 1,0 3.2,0a1.6,1.6 0 1,0 -3.2,0M515.3,442.3a1.6,1.6 0 1,0 3.2,0a1.6,1.6 0 1,0 -3.2,0M510.6,452.0a1.6,1.6 0 1,0 3.2,0a1.6,1.6 0 1,0 -3.2,0M512.6,453.6a1.6,1.6 0 1,0 3.2,0a1.6,1.6 0 1,0 -3.2,0M513.9,461.5a1.6,1.6 0 1,0 3.2,0a1.6,1.6 0 1,0 -3.2,0M515.7,465.4a1.6,1.6 0 1,0 3.2,0a1.6,1.6 0 1,0 -3.2,0M515.4,468.7a1.6,1.6 0 1,0 3.2,0a1.6,1.6 0 1,0 -3.2,0M516.3,471.6a1.6,1.6 0 1,0 3.2,0a1.6,1.6 0 1,0 -3.2,0M517.2,472.2a1.6,1.6 0 1,0 3.2,0a1.6,1.6 0 1,0 -3.2,0M516.3,475.8a1.6,1.6 0 1,0 3.2,0a1.6,1.6 0 1,0 -3.2,0M516.8,478.5a1.6,1.6 0 1,0 3.2,0a1.6,1.6 0 1,0 -3.2,0M519.9,486.5a1.6,1.6 0 1,0 3.2,0a1.6,1.6 0 1,0 -3.2,0M519.8,490.3a1.6,1.6 0 1,0 3.2,0a1.6,1.6 0 1,0 -3.2,0M520.8,492.5a1.6,1.6 0 1,0 3.2,0a1.6,1.6 0 1,0 -3.2,0M520.7,495.8a1.6,1.6 0 1,0 3.2,0a1.6,1.6 0 1,0 -3.2,0M521.6,498.5a1.6,1.6 0 1,0 3.2,0a1.6,1.6 0 1,0 -3.2,0M523.7,502.5a1.6,1.6 0 1,0 3.2,0a1.6,1.6 0 1,0 -3.2,0M528.6,509.4a1.6,1.6 0 1,0 3.2,0a1.6,1.6 0 1,0 -3.2,0M529.8,509.3a1.6,1.6 0 1,0 3.2,0a1.6,1.6 0 1,0 -3.2,0M534.2,512.8a1.6,1.6 0 1,0 3.2,0a1.6,1.6 0 1,0 -3.2,0M536.8,513.7a1.6,1.6 0 1,0 3.2,0a1.6,1.6 0 1,0 -3.2,0M540.9,517.2a1.6,1.6 0 1,0 3.2,0a1.6,1.6 0 1,0 -3.2,0M549.1,534.9a1.6,1.6 0 1,0 3.2,0a1.6,1.6 0 1,0 -3.2,0M549.1,536.9a1.6,1.6 0 1,0 3.2,0a1.6,1.6 0 1,0 -3.2,0M549.9,538.5a1.6,1.6 0 1,0 3.2,0a1.6,1.6 0 1,0 -3.2,0M550.4,542.4a1.6,1.6 0 1,0 3.2,0a1.6,1.6 0 1,0 -3.2,0M552.3,545.9a1.6,1.6 0 1,0 3.2,0a1.6,1.6 0 1,0 -3.2,0M553.6,548.7a1.6,1.6 0 1,0 3.2,0a1.6,1.6 0 1,0 -3.2,0M558.7,554.8a1.6,1.6 0 1,0 3.2,0a1.6,1.6 0 1,0 -3.2,0M561.0,557.2a1.6,1.6 0 1,0 3.2,0a1.6,1.6 0 1,0 -3.2,0M563.7,561.2a1.6,1.6 0 1,0 3.2,0a1.6,1.6 0 1,0 -3.2,0M570.9,569.6a1.6,1.6 0 1,0 3.2,0a1.6,1.6 0 1,0 -3.2,0M574.0,573.3a1.6,1.6 0 1,0 3.2,0a1.6,1.6 0 1,0 -3.2,0M575.2,574.5a1.6,1.6 0 1,0 3.2,0a1.6,1.6 0 1,0 -3.2,0M579.7,580.0a1.6,1.6 0 1,0 3.2,0a1.6,1.6 0 1,0 -3.2,0M583.4,589.5a1.6,1.6 0 1,0 3.2,0a1.6,1.6 0 1,0 -3.2,0M584.4,593.1a1.6,1.6 0 1,0 3.2,0a1.6,1.6 0 1,0 -3.2,0M584.3,594.6a1.6,1.6 0 1,0 3.2,0a1.6,1.6 0 1,0 -3.2,0M585.1,597.3a1.6,1.6 0 1,0 3.2,0a1.6,1.6 0 1,0 -3.2,0M583.9,600.0a1.6,1.6 0 1,0 3.2,0a1.6,1.6 0 1,0 -3.2,0M582.9,602.8a1.6,1.6 0 1,0 3.2,0a1.6,1.6 0 1,0 -3.2,0M582.2,605.2a1.6,1.6 0 1,0 3.2,0a1.6,1.6 0 1,0 -3.2,0M576.7,608.0a1.6,1.6 0 1,0 3.2,0a1.6,1.6 0 1,0 -3.2,0M568.0,609.2a1.6,1.6 0 1,0 3.2,0a1.6,1.6 0 1,0 -3.2,0M566.6,608.2a1.6,1.6 0 1,0 3.2,0a1.6,1.6 0 1,0 -3.2,0M556.4,604.9a1.6,1.6 0 1,0 3.2,0a1.6,1.6 0 1,0 -3.2,0M550.8,603.4a1.6,1.6 0 1,0 3.2,0a1.6,1.6 0 1,0 -3.2,0M548.7,603.0a1.6,1.6 0 1,0 3.2,0a1.6,1.6 0 1,0 -3.2,0M543.3,602.0a1.6,1.6 0 1,0 3.2,0a1.6,1.6 0 1,0 -3.2,0M540.2,600.1a1.6,1.6 0 1,0 3.2,0a1.6,1.6 0 1,0 -3.2,0M535.1,599.9a1.6,1.6 0 1,0 3.2,0a1.6,1.6 0 1,0 -3.2,0M526.2,600.9a1.6,1.6 0 1,0 3.2,0a1.6,1.6 0 1,0 -3.2,0M523.9,600.5a1.6,1.6 0 1,0 3.2,0a1.6,1.6 0 1,0 -3.2,0M516.0,599.2a1.6,1.6 0 1,0 3.2,0a1.6,1.6 0 1,0 -3.2,0M513.4,600.4a1.6,1.6 0 1,0 3.2,0a1.6,1.6 0 1,0 -3.2,0M510.9,599.8a1.6,1.6 0 1,0 3.2,0a1.6,1.6 0 1,0 -3.2,0M500.9,599.2a1.6,1.6 0 1,0 3.2,0a1.6,1.6 0 1,0 -3.2,0M496.8,597.6a1.6,1.6 0 1,0 3.2,0a1.6,1.6 0 1,0 -3.2,0M492.7,593.8a1.6,1.6 0 1,0 3.2,0a1.6,1.6 0 1,0 -3.2,0M491.1,589.0a1.6,1.6 0 1,0 3.2,0a1.6,1.6 0 1,0 -3.2,0M489.3,587.7a1.6,1.6 0 1,0 3.2,0a1.6,1.6 0 1,0 -3.2,0M486.1,579.6a1.6,1.6 0 1,0 3.2,0a1.6,1.6 0 1,0 -3.2,0M485.3,572.1a1.6,1.6 0 1,0 3.2,0a1.6,1.6 0 1,0 -3.2,0M485.4,565.4a1.6,1.6 0 1,0 3.2,0a1.6,1.6 0 1,0 -3.2,0M483.3,560.1a1.6,1.6 0 1,0 3.2,0a1.6,1.6 0 1,0 -3.2,0M484.6,552.7a1.6,1.6 0 1,0 3.2,0a1.6,1.6 0 1,0 -3.2,0M483.0,537.7a1.6,1.6 0 1,0 3.2,0a1.6,1.6 0 1,0 -3.2,0M479.4,529.9a1.6,1.6 0 1,0 3.2,0a1.6,1.6 0 1,0 -3.2,0M479.7,525.7a1.6,1.6 0 1,0 3.2,0a1.6,1.6 0 1,0 -3.2,0M481.9,516.8a1.6,1.6 0 1,0 3.2,0a1.6,1.6 0 1,0 -3.2,0M481.7,512.9a1.6,1.6 0 1,0 3.2,0a1.6,1.6 0 1,0 -3.2,0M483.1,510.8a1.6,1.6 0 1,0 3.2,0a1.6,1.6 0 1,0 -3.2,0M483.3,509.0a1.6,1.6 0 1,0 3.2,0a1.6,1.6 0 1,0 -3.2,0M484.4,505.0a1.6,1.6 0 1,0 3.2,0a1.6,1.6 0 1,0 -3.2,0M487.1,502.8a1.6,1.6 0 1,0 3.2,0a1.6,1.6 0 1,0 -3.2,0M488.8,499.3a1.6,1.6 0 1,0 3.2,0a1.6,1.6 0 1,0 -3.2,0M488.9,493.3a1.6,1.6 0 1,0 3.2,0a1.6,1.6 0 1,0 -3.2,0M490.4,489.4a1.6,1.6 0 1,0 3.2,0a1.6,1.6 0 1,0 -3.2,0M490.0,484.5a1.6,1.6 0 1,0 3.2,0a1.6,1.6 0 1,0 -3.2,0M489.9,478.2a1.6,1.6 0 1,0 3.2,0a1.6,1.6 0 1,0 -3.2,0M489.8,476.3a1.6,1.6 0 1,0 3.2,0a1.6,1.6 0 1,0 -3.2,0M489.2,471.4a1.6,1.6 0 1,0 3.2,0a1.6,1.6 0 1,0 -3.2,0M489.9,470.5a1.6,1.6 0 1,0 3.2,0a1.6,1.6 0 1,0 -3.2,0M491.0,466.7a1.6,1.6 0 1,0 3.2,0a1.6,1.6 0 1,0 -3.2,0M489.9,449.7a1.6,1.6 0 1,0 3.2,0a1.6,1.6 0 1,0 -3.2,0M490.6,443.1a1.6,1.6 0 1,0 3.2,0a1.6,1.6 0 1,0 -3.2,0M491.1,440.9a1.6,1.6 0 1,0 3.2,0a1.6,1.6 0 1,0 -3.2,0M514.3,459.1a1.6,1.6 0 1,0 3.2,0a1.6,1.6 0 1,0 -3.2,0M512.9,461.5a1.6,1.6 0 1,0 3.2,0a1.6,1.6 0 1,0 -3.2,0M515.4,461.5a1.6,1.6 0 1,0 3.2,0a1.6,1.6 0 1,0 -3.2,0M514.0,463.8a1.6,1.6 0 1,0 3.2,0a1.6,1.6 0 1,0 -3.2,0M516.6,463.8a1.6,1.6 0 1,0 3.2,0a1.6,1.6 0 1,0 -3.2,0M515.7,466.2a1.6,1.6 0 1,0 3.2,0a1.6,1.6 0 1,0 -3.2,0M516.9,468.5a1.6,1.6 0 1,0 3.2,0a1.6,1.6 0 1,0 -3.2,0M518.0,470.9a1.6,1.6 0 1,0 3.2,0a1.6,1.6 0 1,0 -3.2,0M518.4,480.3a1.6,1.6 0 1,0 3.2,0a1.6,1.6 0 1,0 -3.2,0M521.0,480.3a1.6,1.6 0 1,0 3.2,0a1.6,1.6 0 1,0 -3.2,0M518.0,485.0a1.6,1.6 0 1,0 3.2,0a1.6,1.6 0 1,0 -3.2,0M521.1,485.0a1.6,1.6 0 1,0 3.2,0a1.6,1.6 0 1,0 -3.2,0M522.4,487.3a1.6,1.6 0 1,0 3.2,0a1.6,1.6 0 1,0 -3.2,0M520.8,489.7a1.6,1.6 0 1,0 3.2,0a1.6,1.6 0 1,0 -3.2,0M519.8,492.0a1.6,1.6 0 1,0 3.2,0a1.6,1.6 0 1,0 -3.2,0M522.1,492.0a1.6,1.6 0 1,0 3.2,0a1.6,1.6 0 1,0 -3.2,0M520.7,494.4a1.6,1.6 0 1,0 3.2,0a1.6,1.6 0 1,0 -3.2,0M523.7,494.4a1.6,1.6 0 1,0 3.2,0a1.6,1.6 0 1,0 -3.2,0M524.9,496.7a1.6,1.6 0 1,0 3.2,0a1.6,1.6 0 1,0 -3.2,0M523.5,499.1a1.6,1.6 0 1,0 3.2,0a1.6,1.6 0 1,0 -3.2,0M523.4,503.8a1.6,1.6 0 1,0 3.2,0a1.6,1.6 0 1,0 -3.2,0M529.1,508.5a1.6,1.6 0 1,0 3.2,0a1.6,1.6 0 1,0 -3.2,0M538.8,515.5a1.6,1.6 0 1,0 3.2,0a1.6,1.6 0 1,0 -3.2,0M539.8,517.9a1.6,1.6 0 1,0 3.2,0a1.6,1.6 0 1,0 -3.2,0M542.7,517.9a1.6,1.6 0 1,0 3.2,0a1.6,1.6 0 1,0 -3.2,0" fill="#e0ebf5"/>
<path d="M492.9,444.1a1.1,1.1 0 1,0 2.2,0a1.1,1.1 0 1,0 -2.2,0M495.1,445.0a1.1,1.1 0 1,0 2.2,0a1.1,1.1 0 1,0 -2.2,0M511.7,444.3a1.1,1.1 0 1,0 2.2,0a1.1,1.1 0 1,0 -2.2,0M513.9,484.1a1.1,1.1 0 1,0 2.2,0a1.1,1.1 0 1,0 -2.2,0M529.7,515.0a1.1,1.1 0 1,0 2.2,0a1.1,1.1 0 1,0 -2.2,0M542.2,525.8a1.1,1.1 0 1,0 2.2,0a1.1,1.1 0 1,0 -2.2,0M558.5,602.3a1.1,1.1 0 1,0 2.2,0a1.1,1.1 0 1,0 -2.2,0M489.3,544.8a1.1,1.1 0 1,0 2.2,0a1.1,1.1 0 1,0 -2.2,0M487.3,542.1a1.1,1.1 0 1,0 2.2,0a1.1,1.1 0 1,0 -2.2,0M493.7,497.1a1.1,1.1 0 1,0 2.2,0a1.1,1.1 0 1,0 -2.2,0M494.2,461.4a1.1,1.1 0 1,0 2.2,0a1.1,1.1 0 1,0 -2.2,0M493.6,457.1a1.1,1.1 0 1,0 2.2,0a1.1,1.1 0 1,0 -2.2,0" fill="#fff" opacity="0.75"/>
<path d="M573.2,440.8a1.7,1.7 0 1,0 3.4,0a1.7,1.7 0 1,0 -3.4,0M520.3,444.6a1.7,1.7 0 1,0 3.4,0a1.7,1.7 0 1,0 -3.4,0M510.6,439.4a1.7,1.7 0 1,0 3.4,0a1.7,1.7 0 1,0 -3.4,0M529.0,468.8a1.7,1.7 0 1,0 3.4,0a1.7,1.7 0 1,0 -3.4,0M524.5,470.0a1.7,1.7 0 1,0 3.4,0a1.7,1.7 0 1,0 -3.4,0M526.2,476.7a1.7,1.7 0 1,0 3.4,0a1.7,1.7 0 1,0 -3.4,0M533.4,478.1a1.7,1.7 0 1,0 3.4,0a1.7,1.7 0 1,0 -3.4,0M540.2,477.2a1.7,1.7 0 1,0 3.4,0a1.7,1.7 0 1,0 -3.4,0M528.3,481.0a1.7,1.7 0 1,0 3.4,0a1.7,1.7 0 1,0 -3.4,0M562.3,476.7a1.7,1.7 0 1,0 3.4,0a1.7,1.7 0 1,0 -3.4,0M573.5,483.7a1.7,1.7 0 1,0 3.4,0a1.7,1.7 0 1,0 -3.4,0M539.0,495.4a1.7,1.7 0 1,0 3.4,0a1.7,1.7 0 1,0 -3.4,0M530.6,499.4a1.7,1.7 0 1,0 3.4,0a1.7,1.7 0 1,0 -3.4,0M548.3,503.8a1.7,1.7 0 1,0 3.4,0a1.7,1.7 0 1,0 -3.4,0M573.2,498.2a1.7,1.7 0 1,0 3.4,0a1.7,1.7 0 1,0 -3.4,0M532.9,510.3a1.7,1.7 0 1,0 3.4,0a1.7,1.7 0 1,0 -3.4,0M535.8,510.3a1.7,1.7 0 1,0 3.4,0a1.7,1.7 0 1,0 -3.4,0M532.9,515.7a1.7,1.7 0 1,0 3.4,0a1.7,1.7 0 1,0 -3.4,0M535.8,515.7a1.7,1.7 0 1,0 3.4,0a1.7,1.7 0 1,0 -3.4,0M525.9,512.9a1.7,1.7 0 1,0 3.4,0a1.7,1.7 0 1,0 -3.4,0M541.6,519.1a1.7,1.7 0 1,0 3.4,0a1.7,1.7 0 1,0 -3.4,0M546.0,520.5a1.7,1.7 0 1,0 3.4,0a1.7,1.7 0 1,0 -3.4,0M491.5,598.3a1.7,1.7 0 1,0 3.4,0a1.7,1.7 0 1,0 -3.4,0M498.5,605.0a1.7,1.7 0 1,0 3.4,0a1.7,1.7 0 1,0 -3.4,0M506.1,601.4a1.7,1.7 0 1,0 3.4,0a1.7,1.7 0 1,0 -3.4,0M511.6,602.8a1.7,1.7 0 1,0 3.4,0a1.7,1.7 0 1,0 -3.4,0M517.1,601.4a1.7,1.7 0 1,0 3.4,0a1.7,1.7 0 1,0 -3.4,0M518.0,608.3a1.7,1.7 0 1,0 3.4,0a1.7,1.7 0 1,0 -3.4,0M511.3,610.5a1.7,1.7 0 1,0 3.4,0a1.7,1.7 0 1,0 -3.4,0M502.5,609.8a1.7,1.7 0 1,0 3.4,0a1.7,1.7 0 1,0 -3.4,0M495.6,612.0a1.7,1.7 0 1,0 3.4,0a1.7,1.7 0 1,0 -3.4,0M502.1,613.8a1.7,1.7 0 1,0 3.4,0a1.7,1.7 0 1,0 -3.4,0M511.3,615.6a1.7,1.7 0 1,0 3.4,0a1.7,1.7 0 1,0 -3.4,0M520.4,615.6a1.7,1.7 0 1,0 3.4,0a1.7,1.7 0 1,0 -3.4,0M526.2,615.6a1.7,1.7 0 1,0 3.4,0a1.7,1.7 0 1,0 -3.4,0M524.4,605.0a1.7,1.7 0 1,0 3.4,0a1.7,1.7 0 1,0 -3.4,0M531.3,606.5a1.7,1.7 0 1,0 3.4,0a1.7,1.7 0 1,0 -3.4,0M531.3,610.5a1.7,1.7 0 1,0 3.4,0a1.7,1.7 0 1,0 -3.4,0M535.3,610.5a1.7,1.7 0 1,0 3.4,0a1.7,1.7 0 1,0 -3.4,0M542.6,603.8a1.7,1.7 0 1,0 3.4,0a1.7,1.7 0 1,0 -3.4,0M547.8,602.8a1.7,1.7 0 1,0 3.4,0a1.7,1.7 0 1,0 -3.4,0M546.3,608.0a1.7,1.7 0 1,0 3.4,0a1.7,1.7 0 1,0 -3.4,0M559.1,609.2a1.7,1.7 0 1,0 3.4,0a1.7,1.7 0 1,0 -3.4,0M562.7,611.1a1.7,1.7 0 1,0 3.4,0a1.7,1.7 0 1,0 -3.4,0M570.0,614.7a1.7,1.7 0 1,0 3.4,0a1.7,1.7 0 1,0 -3.4,0M575.5,613.4a1.7,1.7 0 1,0 3.4,0a1.7,1.7 0 1,0 -3.4,0M582.4,610.5a1.7,1.7 0 1,0 3.4,0a1.7,1.7 0 1,0 -3.4,0M532.6,619.6a1.7,1.7 0 1,0 3.4,0a1.7,1.7 0 1,0 -3.4,0M541.7,619.6a1.7,1.7 0 1,0 3.4,0a1.7,1.7 0 1,0 -3.4,0M526.2,618.4a1.7,1.7 0 1,0 3.4,0a1.7,1.7 0 1,0 -3.4,0M499.8,623.8a1.7,1.7 0 1,0 3.4,0a1.7,1.7 0 1,0 -3.4,0M507.1,623.8a1.7,1.7 0 1,0 3.4,0a1.7,1.7 0 1,0 -3.4,0M516.2,623.8a1.7,1.7 0 1,0 3.4,0a1.7,1.7 0 1,0 -3.4,0M518.0,623.8a1.7,1.7 0 1,0 3.4,0a1.7,1.7 0 1,0 -3.4,0M520.7,623.8a1.7,1.7 0 1,0 3.4,0a1.7,1.7 0 1,0 -3.4,0M523.5,623.8a1.7,1.7 0 1,0 3.4,0a1.7,1.7 0 1,0 -3.4,0M526.2,623.8a1.7,1.7 0 1,0 3.4,0a1.7,1.7 0 1,0 -3.4,0M533.5,623.8a1.7,1.7 0 1,0 3.4,0a1.7,1.7 0 1,0 -3.4,0M536.3,623.8a1.7,1.7 0 1,0 3.4,0a1.7,1.7 0 1,0 -3.4,0M541.7,623.8a1.7,1.7 0 1,0 3.4,0a1.7,1.7 0 1,0 -3.4,0M544.5,623.8a1.7,1.7 0 1,0 3.4,0a1.7,1.7 0 1,0 -3.4,0M549.9,623.8a1.7,1.7 0 1,0 3.4,0a1.7,1.7 0 1,0 -3.4,0M550.9,623.8a1.7,1.7 0 1,0 3.4,0a1.7,1.7 0 1,0 -3.4,0M568.2,620.5a1.7,1.7 0 1,0 3.4,0a1.7,1.7 0 1,0 -3.4,0" fill="#e0ebf5"/>
<path d="M487.1,505.6l1.5,0.9v1.7l-1.5,0.9l-1.5,-0.9v-1.7zM489.8,505.6l1.5,0.9v1.7l-1.5,0.9l-1.5,-0.9v-1.7zM492.5,505.6l1.5,0.9v1.7l-1.5,0.9l-1.5,-0.9v-1.7zM495.1,505.6l1.5,0.9v1.7l-1.5,0.9l-1.5,-0.9v-1.7zM499.2,507.9l1.5,0.9v1.7l-1.5,0.9l-1.5,-0.9v-1.7zM501.8,507.9l1.5,0.9v1.7l-1.5,0.9l-1.5,-0.9v-1.7zM503.2,510.2l1.5,0.9v1.7l-1.5,0.9l-1.5,-0.9v-1.7zM505.9,510.2l1.5,0.9v1.7l-1.5,0.9l-1.5,-0.9v-1.7zM507.2,512.6l1.5,0.9v1.7l-1.5,0.9l-1.5,-0.9v-1.7zM511.2,514.9l1.5,0.9v1.7l-1.5,0.9l-1.5,-0.9v-1.7zM512.6,517.2l1.5,0.9v1.7l-1.5,0.9l-1.5,-0.9v-1.7zM515.3,517.2l1.5,0.9v1.7l-1.5,0.9l-1.5,-0.9v-1.7zM516.6,519.5l1.5,0.9v1.7l-1.5,0.9l-1.5,-0.9v-1.7zM518.0,521.9l1.5,0.9v1.7l-1.5,0.9l-1.5,-0.9v-1.7zM520.6,521.9l1.5,0.9v1.7l-1.5,0.9l-1.5,-0.9v-1.7zM522.0,524.2l1.5,0.9v1.7l-1.5,0.9l-1.5,-0.9v-1.7zM524.7,524.2l1.5,0.9v1.7l-1.5,0.9l-1.5,-0.9v-1.7zM523.3,526.5l1.5,0.9v1.7l-1.5,0.9l-1.5,-0.9v-1.7zM526.0,526.5l1.5,0.9v1.7l-1.5,0.9l-1.5,-0.9v-1.7zM527.4,528.8l1.5,0.9v1.7l-1.5,0.9l-1.5,-0.9v-1.7zM530.0,528.8l1.5,0.9v1.7l-1.5,0.9l-1.5,-0.9v-1.7zM528.7,531.2l1.5,0.9v1.7l-1.5,0.9l-1.5,-0.9v-1.7zM531.4,531.2l1.5,0.9v1.7l-1.5,0.9l-1.5,-0.9v-1.7zM532.7,533.5l1.5,0.9v1.7l-1.5,0.9l-1.5,-0.9v-1.7zM535.4,533.5l1.5,0.9v1.7l-1.5,0.9l-1.5,-0.9v-1.7zM534.1,535.8l1.5,0.9v1.7l-1.5,0.9l-1.5,-0.9v-1.7zM536.7,535.8l1.5,0.9v1.7l-1.5,0.9l-1.5,-0.9v-1.7zM539.4,535.8l1.5,0.9v1.7l-1.5,0.9l-1.5,-0.9v-1.7zM538.1,538.1l1.5,0.9v1.7l-1.5,0.9l-1.5,-0.9v-1.7zM540.8,538.1l1.5,0.9v1.7l-1.5,0.9l-1.5,-0.9v-1.7zM539.4,540.5l1.5,0.9v1.7l-1.5,0.9l-1.5,-0.9v-1.7zM542.1,540.5l1.5,0.9v1.7l-1.5,0.9l-1.5,-0.9v-1.7zM487.1,542.8l1.5,0.9v1.7l-1.5,0.9l-1.5,-0.9v-1.7zM543.5,542.8l1.5,0.9v1.7l-1.5,0.9l-1.5,-0.9v-1.7zM546.1,542.8l1.5,0.9v1.7l-1.5,0.9l-1.5,-0.9v-1.7zM488.4,545.1l1.5,0.9v1.7l-1.5,0.9l-1.5,-0.9v-1.7zM544.8,545.1l1.5,0.9v1.7l-1.5,0.9l-1.5,-0.9v-1.7zM547.5,545.1l1.5,0.9v1.7l-1.5,0.9l-1.5,-0.9v-1.7zM489.8,547.4l1.5,0.9v1.7l-1.5,0.9l-1.5,-0.9v-1.7zM492.5,547.4l1.5,0.9v1.7l-1.5,0.9l-1.5,-0.9v-1.7zM546.1,547.4l1.5,0.9v1.7l-1.5,0.9l-1.5,-0.9v-1.7zM548.8,547.4l1.5,0.9v1.7l-1.5,0.9l-1.5,-0.9v-1.7zM551.5,547.4l1.5,0.9v1.7l-1.5,0.9l-1.5,-0.9v-1.7zM491.1,549.8l1.5,0.9v1.7l-1.5,0.9l-1.5,-0.9v-1.7zM493.8,549.8l1.5,0.9v1.7l-1.5,0.9l-1.5,-0.9v-1.7zM550.2,549.8l1.5,0.9v1.7l-1.5,0.9l-1.5,-0.9v-1.7zM552.9,549.8l1.5,0.9v1.7l-1.5,0.9l-1.5,-0.9v-1.7zM492.5,552.1l1.5,0.9v1.7l-1.5,0.9l-1.5,-0.9v-1.7zM495.1,552.1l1.5,0.9v1.7l-1.5,0.9l-1.5,-0.9v-1.7zM497.8,552.1l1.5,0.9v1.7l-1.5,0.9l-1.5,-0.9v-1.7zM551.5,552.1l1.5,0.9v1.7l-1.5,0.9l-1.5,-0.9v-1.7zM554.2,552.1l1.5,0.9v1.7l-1.5,0.9l-1.5,-0.9v-1.7zM496.5,554.4l1.5,0.9v1.7l-1.5,0.9l-1.5,-0.9v-1.7zM499.2,554.4l1.5,0.9v1.7l-1.5,0.9l-1.5,-0.9v-1.7zM501.8,554.4l1.5,0.9v1.7l-1.5,0.9l-1.5,-0.9v-1.7zM552.9,554.4l1.5,0.9v1.7l-1.5,0.9l-1.5,-0.9v-1.7zM555.5,554.4l1.5,0.9v1.7l-1.5,0.9l-1.5,-0.9v-1.7zM558.2,554.4l1.5,0.9v1.7l-1.5,0.9l-1.5,-0.9v-1.7zM497.8,556.7l1.5,0.9v1.7l-1.5,0.9l-1.5,-0.9v-1.7zM500.5,556.7l1.5,0.9v1.7l-1.5,0.9l-1.5,-0.9v-1.7zM503.2,556.7l1.5,0.9v1.7l-1.5,0.9l-1.5,-0.9v-1.7zM554.2,556.7l1.5,0.9v1.7l-1.5,0.9l-1.5,-0.9v-1.7zM556.9,556.7l1.5,0.9v1.7l-1.5,0.9l-1.5,-0.9v-1.7zM559.6,556.7l1.5,0.9v1.7l-1.5,0.9l-1.5,-0.9v-1.7zM499.2,559.1l1.5,0.9v1.7l-1.5,0.9l-1.5,-0.9v-1.7zM501.8,559.1l1.5,0.9v1.7l-1.5,0.9l-1.5,-0.9v-1.7zM504.5,559.1l1.5,0.9v1.7l-1.5,0.9l-1.5,-0.9v-1.7zM507.2,559.1l1.5,0.9v1.7l-1.5,0.9l-1.5,-0.9v-1.7zM555.5,559.1l1.5,0.9v1.7l-1.5,0.9l-1.5,-0.9v-1.7zM558.2,559.1l1.5,0.9v1.7l-1.5,0.9l-1.5,-0.9v-1.7zM560.9,559.1l1.5,0.9v1.7l-1.5,0.9l-1.5,-0.9v-1.7zM497.8,561.4l1.5,0.9v1.7l-1.5,0.9l-1.5,-0.9v-1.7zM500.5,561.4l1.5,0.9v1.7l-1.5,0.9l-1.5,-0.9v-1.7zM503.2,561.4l1.5,0.9v1.7l-1.5,0.9l-1.5,-0.9v-1.7zM505.9,561.4l1.5,0.9v1.7l-1.5,0.9l-1.5,-0.9v-1.7zM508.6,561.4l1.5,0.9v1.7l-1.5,0.9l-1.5,-0.9v-1.7zM511.2,561.4l1.5,0.9v1.7l-1.5,0.9l-1.5,-0.9v-1.7zM556.9,561.4l1.5,0.9v1.7l-1.5,0.9l-1.5,-0.9v-1.7zM559.6,561.4l1.5,0.9v1.7l-1.5,0.9l-1.5,-0.9v-1.7zM562.3,561.4l1.5,0.9v1.7l-1.5,0.9l-1.5,-0.9v-1.7zM493.8,563.7l1.5,0.9v1.7l-1.5,0.9l-1.5,-0.9v-1.7zM496.5,563.7l1.5,0.9v1.7l-1.5,0.9l-1.5,-0.9v-1.7zM499.2,563.7l1.5,0.9v1.7l-1.5,0.9l-1.5,-0.9v-1.7zM501.8,563.7l1.5,0.9v1.7l-1.5,0.9l-1.5,-0.9v-1.7zM504.5,563.7l1.5,0.9v1.7l-1.5,0.9l-1.5,-0.9v-1.7zM507.2,563.7l1.5,0.9v1.7l-1.5,0.9l-1.5,-0.9v-1.7zM509.9,563.7l1.5,0.9v1.7l-1.5,0.9l-1.5,-0.9v-1.7zM512.6,563.7l1.5,0.9v1.7l-1.5,0.9l-1.5,-0.9v-1.7zM515.3,563.7l1.5,0.9v1.7l-1.5,0.9l-1.5,-0.9v-1.7zM518.0,563.7l1.5,0.9v1.7l-1.5,0.9l-1.5,-0.9v-1.7zM558.2,563.7l1.5,0.9v1.7l-1.5,0.9l-1.5,-0.9v-1.7zM560.9,563.7l1.5,0.9v1.7l-1.5,0.9l-1.5,-0.9v-1.7zM563.6,563.7l1.5,0.9v1.7l-1.5,0.9l-1.5,-0.9v-1.7zM489.8,566.0l1.5,0.9v1.7l-1.5,0.9l-1.5,-0.9v-1.7zM492.5,566.0l1.5,0.9v1.7l-1.5,0.9l-1.5,-0.9v-1.7zM495.1,566.0l1.5,0.9v1.7l-1.5,0.9l-1.5,-0.9v-1.7zM497.8,566.0l1.5,0.9v1.7l-1.5,0.9l-1.5,-0.9v-1.7zM500.5,566.0l1.5,0.9v1.7l-1.5,0.9l-1.5,-0.9v-1.7zM503.2,566.0l1.5,0.9v1.7l-1.5,0.9l-1.5,-0.9v-1.7zM505.9,566.0l1.5,0.9v1.7l-1.5,0.9l-1.5,-0.9v-1.7zM508.6,566.0l1.5,0.9v1.7l-1.5,0.9l-1.5,-0.9v-1.7zM511.2,566.0l1.5,0.9v1.7l-1.5,0.9l-1.5,-0.9v-1.7zM513.9,566.0l1.5,0.9v1.7l-1.5,0.9l-1.5,-0.9v-1.7zM516.6,566.0l1.5,0.9v1.7l-1.5,0.9l-1.5,-0.9v-1.7zM519.3,566.0l1.5,0.9v1.7l-1.5,0.9l-1.5,-0.9v-1.7zM522.0,566.0l1.5,0.9v1.7l-1.5,0.9l-1.5,-0.9v-1.7zM559.6,566.0l1.5,0.9v1.7l-1.5,0.9l-1.5,-0.9v-1.7zM562.3,566.0l1.5,0.9v1.7l-1.5,0.9l-1.5,-0.9v-1.7zM564.9,566.0l1.5,0.9v1.7l-1.5,0.9l-1.5,-0.9v-1.7zM488.4,568.4l1.5,0.9v1.7l-1.5,0.9l-1.5,-0.9v-1.7zM491.1,568.4l1.5,0.9v1.7l-1.5,0.9l-1.5,-0.9v-1.7zM493.8,568.4l1.5,0.9v1.7l-1.5,0.9l-1.5,-0.9v-1.7zM509.9,568.4l1.5,0.9v1.7l-1.5,0.9l-1.5,-0.9v-1.7zM512.6,568.4l1.5,0.9v1.7l-1.5,0.9l-1.5,-0.9v-1.7zM515.3,568.4l1.5,0.9v1.7l-1.5,0.9l-1.5,-0.9v-1.7zM518.0,568.4l1.5,0.9v1.7l-1.5,0.9l-1.5,-0.9v-1.7zM520.6,568.4l1.5,0.9v1.7l-1.5,0.9l-1.5,-0.9v-1.7zM523.3,568.4l1.5,0.9v1.7l-1.5,0.9l-1.5,-0.9v-1.7zM526.0,568.4l1.5,0.9v1.7l-1.5,0.9l-1.5,-0.9v-1.7zM528.7,568.4l1.5,0.9v1.7l-1.5,0.9l-1.5,-0.9v-1.7zM558.2,568.4l1.5,0.9v1.7l-1.5,0.9l-1.5,-0.9v-1.7zM560.9,568.4l1.5,0.9v1.7l-1.5,0.9l-1.5,-0.9v-1.7zM563.6,568.4l1.5,0.9v1.7l-1.5,0.9l-1.5,-0.9v-1.7zM566.3,568.4l1.5,0.9v1.7l-1.5,0.9l-1.5,-0.9v-1.7zM489.8,570.7l1.5,0.9v1.7l-1.5,0.9l-1.5,-0.9v-1.7zM511.2,570.7l1.5,0.9v1.7l-1.5,0.9l-1.5,-0.9v-1.7zM513.9,570.7l1.5,0.9v1.7l-1.5,0.9l-1.5,-0.9v-1.7zM516.6,570.7l1.5,0.9v1.7l-1.5,0.9l-1.5,-0.9v-1.7zM519.3,570.7l1.5,0.9v1.7l-1.5,0.9l-1.5,-0.9v-1.7zM522.0,570.7l1.5,0.9v1.7l-1.5,0.9l-1.5,-0.9v-1.7zM524.7,570.7l1.5,0.9v1.7l-1.5,0.9l-1.5,-0.9v-1.7zM527.4,570.7l1.5,0.9v1.7l-1.5,0.9l-1.5,-0.9v-1.7zM530.0,570.7l1.5,0.9v1.7l-1.5,0.9l-1.5,-0.9v-1.7zM532.7,570.7l1.5,0.9v1.7l-1.5,0.9l-1.5,-0.9v-1.7zM535.4,570.7l1.5,0.9v1.7l-1.5,0.9l-1.5,-0.9v-1.7zM538.1,570.7l1.5,0.9v1.7l-1.5,0.9l-1.5,-0.9v-1.7zM556.9,570.7l1.5,0.9v1.7l-1.5,0.9l-1.5,-0.9v-1.7zM559.6,570.7l1.5,0.9v1.7l-1.5,0.9l-1.5,-0.9v-1.7zM562.3,570.7l1.5,0.9v1.7l-1.5,0.9l-1.5,-0.9v-1.7zM564.9,570.7l1.5,0.9v1.7l-1.5,0.9l-1.5,-0.9v-1.7zM488.4,573.0l1.5,0.9v1.7l-1.5,0.9l-1.5,-0.9v-1.7zM512.6,573.0l1.5,0.9v1.7l-1.5,0.9l-1.5,-0.9v-1.7zM515.3,573.0l1.5,0.9v1.7l-1.5,0.9l-1.5,-0.9v-1.7zM518.0,573.0l1.5,0.9v1.7l-1.5,0.9l-1.5,-0.9v-1.7zM520.6,573.0l1.5,0.9v1.7l-1.5,0.9l-1.5,-0.9v-1.7zM523.3,573.0l1.5,0.9v1.7l-1.5,0.9l-1.5,-0.9v-1.7zM526.0,573.0l1.5,0.9v1.7l-1.5,0.9l-1.5,-0.9v-1.7zM528.7,573.0l1.5,0.9v1.7l-1.5,0.9l-1.5,-0.9v-1.7zM531.4,573.0l1.5,0.9v1.7l-1.5,0.9l-1.5,-0.9v-1.7zM534.1,573.0l1.5,0.9v1.7l-1.5,0.9l-1.5,-0.9v-1.7zM536.7,573.0l1.5,0.9v1.7l-1.5,0.9l-1.5,-0.9v-1.7zM539.4,573.0l1.5,0.9v1.7l-1.5,0.9l-1.5,-0.9v-1.7zM542.1,573.0l1.5,0.9v1.7l-1.5,0.9l-1.5,-0.9v-1.7zM544.8,573.0l1.5,0.9v1.7l-1.5,0.9l-1.5,-0.9v-1.7zM547.5,573.0l1.5,0.9v1.7l-1.5,0.9l-1.5,-0.9v-1.7zM550.2,573.0l1.5,0.9v1.7l-1.5,0.9l-1.5,-0.9v-1.7zM552.9,573.0l1.5,0.9v1.7l-1.5,0.9l-1.5,-0.9v-1.7zM555.5,573.0l1.5,0.9v1.7l-1.5,0.9l-1.5,-0.9v-1.7zM558.2,573.0l1.5,0.9v1.7l-1.5,0.9l-1.5,-0.9v-1.7zM560.9,573.0l1.5,0.9v1.7l-1.5,0.9l-1.5,-0.9v-1.7zM563.6,573.0l1.5,0.9v1.7l-1.5,0.9l-1.5,-0.9v-1.7zM566.3,573.0l1.5,0.9v1.7l-1.5,0.9l-1.5,-0.9v-1.7zM511.2,575.3l1.5,0.9v1.7l-1.5,0.9l-1.5,-0.9v-1.7zM513.9,575.3l1.5,0.9v1.7l-1.5,0.9l-1.5,-0.9v-1.7zM516.6,575.3l1.5,0.9v1.7l-1.5,0.9l-1.5,-0.9v-1.7zM519.3,575.3l1.5,0.9v1.7l-1.5,0.9l-1.5,-0.9v-1.7zM522.0,575.3l1.5,0.9v1.7l-1.5,0.9l-1.5,-0.9v-1.7zM532.7,575.3l1.5,0.9v1.7l-1.5,0.9l-1.5,-0.9v-1.7zM535.4,575.3l1.5,0.9v1.7l-1.5,0.9l-1.5,-0.9v-1.7zM538.1,575.3l1.5,0.9v1.7l-1.5,0.9l-1.5,-0.9v-1.7zM540.8,575.3l1.5,0.9v1.7l-1.5,0.9l-1.5,-0.9v-1.7zM543.5,575.3l1.5,0.9v1.7l-1.5,0.9l-1.5,-0.9v-1.7zM546.1,575.3l1.5,0.9v1.7l-1.5,0.9l-1.5,-0.9v-1.7zM548.8,575.3l1.5,0.9v1.7l-1.5,0.9l-1.5,-0.9v-1.7zM551.5,575.3l1.5,0.9v1.7l-1.5,0.9l-1.5,-0.9v-1.7zM554.2,575.3l1.5,0.9v1.7l-1.5,0.9l-1.5,-0.9v-1.7zM556.9,575.3l1.5,0.9v1.7l-1.5,0.9l-1.5,-0.9v-1.7zM559.6,575.3l1.5,0.9v1.7l-1.5,0.9l-1.5,-0.9v-1.7zM562.3,575.3l1.5,0.9v1.7l-1.5,0.9l-1.5,-0.9v-1.7zM564.9,575.3l1.5,0.9v1.7l-1.5,0.9l-1.5,-0.9v-1.7zM491.1,577.7l1.5,0.9v1.7l-1.5,0.9l-1.5,-0.9v-1.7zM509.9,577.7l1.5,0.9v1.7l-1.5,0.9l-1.5,-0.9v-1.7zM512.6,577.7l1.5,0.9v1.7l-1.5,0.9l-1.5,-0.9v-1.7zM515.3,577.7l1.5,0.9v1.7l-1.5,0.9l-1.5,-0.9v-1.7zM518.0,577.7l1.5,0.9v1.7l-1.5,0.9l-1.5,-0.9v-1.7zM542.1,577.7l1.5,0.9v1.7l-1.5,0.9l-1.5,-0.9v-1.7zM544.8,577.7l1.5,0.9v1.7l-1.5,0.9l-1.5,-0.9v-1.7zM547.5,577.7l1.5,0.9v1.7l-1.5,0.9l-1.5,-0.9v-1.7zM550.2,577.7l1.5,0.9v1.7l-1.5,0.9l-1.5,-0.9v-1.7zM552.9,577.7l1.5,0.9v1.7l-1.5,0.9l-1.5,-0.9v-1.7zM555.5,577.7l1.5,0.9v1.7l-1.5,0.9l-1.5,-0.9v-1.7zM558.2,577.7l1.5,0.9v1.7l-1.5,0.9l-1.5,-0.9v-1.7zM560.9,577.7l1.5,0.9v1.7l-1.5,0.9l-1.5,-0.9v-1.7zM492.5,580.0l1.5,0.9v1.7l-1.5,0.9l-1.5,-0.9v-1.7zM495.1,580.0l1.5,0.9v1.7l-1.5,0.9l-1.5,-0.9v-1.7zM503.2,580.0l1.5,0.9v1.7l-1.5,0.9l-1.5,-0.9v-1.7zM505.9,580.0l1.5,0.9v1.7l-1.5,0.9l-1.5,-0.9v-1.7zM508.6,580.0l1.5,0.9v1.7l-1.5,0.9l-1.5,-0.9v-1.7zM511.2,580.0l1.5,0.9v1.7l-1.5,0.9l-1.5,-0.9v-1.7zM513.9,580.0l1.5,0.9v1.7l-1.5,0.9l-1.5,-0.9v-1.7zM493.8,582.3l1.5,0.9v1.7l-1.5,0.9l-1.5,-0.9v-1.7zM496.5,582.3l1.5,0.9v1.7l-1.5,0.9l-1.5,-0.9v-1.7zM499.2,582.3l1.5,0.9v1.7l-1.5,0.9l-1.5,-0.9v-1.7zM501.8,582.3l1.5,0.9v1.7l-1.5,0.9l-1.5,-0.9v-1.7zM504.5,582.3l1.5,0.9v1.7l-1.5,0.9l-1.5,-0.9v-1.7zM507.2,582.3l1.5,0.9v1.7l-1.5,0.9l-1.5,-0.9v-1.7zM509.9,582.3l1.5,0.9v1.7l-1.5,0.9l-1.5,-0.9v-1.7z" fill="#d9e7f3"/>
<path d="M485.7,507.9l1.5,0.9v1.7l-1.5,0.9l-1.5,-0.9v-1.7zM488.4,507.9l1.5,0.9v1.7l-1.5,0.9l-1.5,-0.9v-1.7zM491.1,507.9l1.5,0.9v1.7l-1.5,0.9l-1.5,-0.9v-1.7zM493.8,507.9l1.5,0.9v1.7l-1.5,0.9l-1.5,-0.9v-1.7zM496.5,507.9l1.5,0.9v1.7l-1.5,0.9l-1.5,-0.9v-1.7zM497.8,510.2l1.5,0.9v1.7l-1.5,0.9l-1.5,-0.9v-1.7zM500.5,510.2l1.5,0.9v1.7l-1.5,0.9l-1.5,-0.9v-1.7zM501.8,512.6l1.5,0.9v1.7l-1.5,0.9l-1.5,-0.9v-1.7zM504.5,512.6l1.5,0.9v1.7l-1.5,0.9l-1.5,-0.9v-1.7zM505.9,514.9l1.5,0.9v1.7l-1.5,0.9l-1.5,-0.9v-1.7zM508.6,514.9l1.5,0.9v1.7l-1.5,0.9l-1.5,-0.9v-1.7zM509.9,517.2l1.5,0.9v1.7l-1.5,0.9l-1.5,-0.9v-1.7zM511.2,519.5l1.5,0.9v1.7l-1.5,0.9l-1.5,-0.9v-1.7zM513.9,519.5l1.5,0.9v1.7l-1.5,0.9l-1.5,-0.9v-1.7zM515.3,521.9l1.5,0.9v1.7l-1.5,0.9l-1.5,-0.9v-1.7zM516.6,524.2l1.5,0.9v1.7l-1.5,0.9l-1.5,-0.9v-1.7zM519.3,524.2l1.5,0.9v1.7l-1.5,0.9l-1.5,-0.9v-1.7zM520.6,526.5l1.5,0.9v1.7l-1.5,0.9l-1.5,-0.9v-1.7zM522.0,528.8l1.5,0.9v1.7l-1.5,0.9l-1.5,-0.9v-1.7zM524.7,528.8l1.5,0.9v1.7l-1.5,0.9l-1.5,-0.9v-1.7zM526.0,531.2l1.5,0.9v1.7l-1.5,0.9l-1.5,-0.9v-1.7zM527.4,533.5l1.5,0.9v1.7l-1.5,0.9l-1.5,-0.9v-1.7zM530.0,533.5l1.5,0.9v1.7l-1.5,0.9l-1.5,-0.9v-1.7zM528.7,535.8l1.5,0.9v1.7l-1.5,0.9l-1.5,-0.9v-1.7zM531.4,535.8l1.5,0.9v1.7l-1.5,0.9l-1.5,-0.9v-1.7zM487.1,538.1l1.5,0.9v1.7l-1.5,0.9l-1.5,-0.9v-1.7zM532.7,538.1l1.5,0.9v1.7l-1.5,0.9l-1.5,-0.9v-1.7zM535.4,538.1l1.5,0.9v1.7l-1.5,0.9l-1.5,-0.9v-1.7zM488.4,540.5l1.5,0.9v1.7l-1.5,0.9l-1.5,-0.9v-1.7zM534.1,540.5l1.5,0.9v1.7l-1.5,0.9l-1.5,-0.9v-1.7zM536.7,540.5l1.5,0.9v1.7l-1.5,0.9l-1.5,-0.9v-1.7zM489.8,542.8l1.5,0.9v1.7l-1.5,0.9l-1.5,-0.9v-1.7zM538.1,542.8l1.5,0.9v1.7l-1.5,0.9l-1.5,-0.9v-1.7zM540.8,542.8l1.5,0.9v1.7l-1.5,0.9l-1.5,-0.9v-1.7zM491.1,545.1l1.5,0.9v1.7l-1.5,0.9l-1.5,-0.9v-1.7zM493.8,545.1l1.5,0.9v1.7l-1.5,0.9l-1.5,-0.9v-1.7zM539.4,545.1l1.5,0.9v1.7l-1.5,0.9l-1.5,-0.9v-1.7zM542.1,545.1l1.5,0.9v1.7l-1.5,0.9l-1.5,-0.9v-1.7zM495.1,547.4l1.5,0.9v1.7l-1.5,0.9l-1.5,-0.9v-1.7zM540.8,547.4l1.5,0.9v1.7l-1.5,0.9l-1.5,-0.9v-1.7zM543.5,547.4l1.5,0.9v1.7l-1.5,0.9l-1.5,-0.9v-1.7zM496.5,549.8l1.5,0.9v1.7l-1.5,0.9l-1.5,-0.9v-1.7zM499.2,549.8l1.5,0.9v1.7l-1.5,0.9l-1.5,-0.9v-1.7zM544.8,549.8l1.5,0.9v1.7l-1.5,0.9l-1.5,-0.9v-1.7zM547.5,549.8l1.5,0.9v1.7l-1.5,0.9l-1.5,-0.9v-1.7zM500.5,552.1l1.5,0.9v1.7l-1.5,0.9l-1.5,-0.9v-1.7zM503.2,552.1l1.5,0.9v1.7l-1.5,0.9l-1.5,-0.9v-1.7zM546.1,552.1l1.5,0.9v1.7l-1.5,0.9l-1.5,-0.9v-1.7zM548.8,552.1l1.5,0.9v1.7l-1.5,0.9l-1.5,-0.9v-1.7zM504.5,554.4l1.5,0.9v1.7l-1.5,0.9l-1.5,-0.9v-1.7zM507.2,554.4l1.5,0.9v1.7l-1.5,0.9l-1.5,-0.9v-1.7zM547.5,554.4l1.5,0.9v1.7l-1.5,0.9l-1.5,-0.9v-1.7zM550.2,554.4l1.5,0.9v1.7l-1.5,0.9l-1.5,-0.9v-1.7zM505.9,556.7l1.5,0.9v1.7l-1.5,0.9l-1.5,-0.9v-1.7zM508.6,556.7l1.5,0.9v1.7l-1.5,0.9l-1.5,-0.9v-1.7zM511.2,556.7l1.5,0.9v1.7l-1.5,0.9l-1.5,-0.9v-1.7zM548.8,556.7l1.5,0.9v1.7l-1.5,0.9l-1.5,-0.9v-1.7zM551.5,556.7l1.5,0.9v1.7l-1.5,0.9l-1.5,-0.9v-1.7zM509.9,559.1l1.5,0.9v1.7l-1.5,0.9l-1.5,-0.9v-1.7zM512.6,559.1l1.5,0.9v1.7l-1.5,0.9l-1.5,-0.9v-1.7zM515.3,559.1l1.5,0.9v1.7l-1.5,0.9l-1.5,-0.9v-1.7zM518.0,559.1l1.5,0.9v1.7l-1.5,0.9l-1.5,-0.9v-1.7zM550.2,559.1l1.5,0.9v1.7l-1.5,0.9l-1.5,-0.9v-1.7zM552.9,559.1l1.5,0.9v1.7l-1.5,0.9l-1.5,-0.9v-1.7zM513.9,561.4l1.5,0.9v1.7l-1.5,0.9l-1.5,-0.9v-1.7zM516.6,561.4l1.5,0.9v1.7l-1.5,0.9l-1.5,-0.9v-1.7zM519.3,561.4l1.5,0.9v1.7l-1.5,0.9l-1.5,-0.9v-1.7zM522.0,561.4l1.5,0.9v1.7l-1.5,0.9l-1.5,-0.9v-1.7zM548.8,561.4l1.5,0.9v1.7l-1.5,0.9l-1.5,-0.9v-1.7zM551.5,561.4l1.5,0.9v1.7l-1.5,0.9l-1.5,-0.9v-1.7zM554.2,561.4l1.5,0.9v1.7l-1.5,0.9l-1.5,-0.9v-1.7zM520.6,563.7l1.5,0.9v1.7l-1.5,0.9l-1.5,-0.9v-1.7zM523.3,563.7l1.5,0.9v1.7l-1.5,0.9l-1.5,-0.9v-1.7zM526.0,563.7l1.5,0.9v1.7l-1.5,0.9l-1.5,-0.9v-1.7zM528.7,563.7l1.5,0.9v1.7l-1.5,0.9l-1.5,-0.9v-1.7zM531.4,563.7l1.5,0.9v1.7l-1.5,0.9l-1.5,-0.9v-1.7zM550.2,563.7l1.5,0.9v1.7l-1.5,0.9l-1.5,-0.9v-1.7zM552.9,563.7l1.5,0.9v1.7l-1.5,0.9l-1.5,-0.9v-1.7zM555.5,563.7l1.5,0.9v1.7l-1.5,0.9l-1.5,-0.9v-1.7zM524.7,566.0l1.5,0.9v1.7l-1.5,0.9l-1.5,-0.9v-1.7zM527.4,566.0l1.5,0.9v1.7l-1.5,0.9l-1.5,-0.9v-1.7zM530.0,566.0l1.5,0.9v1.7l-1.5,0.9l-1.5,-0.9v-1.7zM532.7,566.0l1.5,0.9v1.7l-1.5,0.9l-1.5,-0.9v-1.7zM535.4,566.0l1.5,0.9v1.7l-1.5,0.9l-1.5,-0.9v-1.7zM538.1,566.0l1.5,0.9v1.7l-1.5,0.9l-1.5,-0.9v-1.7zM540.8,566.0l1.5,0.9v1.7l-1.5,0.9l-1.5,-0.9v-1.7zM543.5,566.0l1.5,0.9v1.7l-1.5,0.9l-1.5,-0.9v-1.7zM546.1,566.0l1.5,0.9v1.7l-1.5,0.9l-1.5,-0.9v-1.7zM548.8,566.0l1.5,0.9v1.7l-1.5,0.9l-1.5,-0.9v-1.7zM551.5,566.0l1.5,0.9v1.7l-1.5,0.9l-1.5,-0.9v-1.7zM554.2,566.0l1.5,0.9v1.7l-1.5,0.9l-1.5,-0.9v-1.7zM556.9,566.0l1.5,0.9v1.7l-1.5,0.9l-1.5,-0.9v-1.7zM496.5,568.4l1.5,0.9v1.7l-1.5,0.9l-1.5,-0.9v-1.7zM499.2,568.4l1.5,0.9v1.7l-1.5,0.9l-1.5,-0.9v-1.7zM501.8,568.4l1.5,0.9v1.7l-1.5,0.9l-1.5,-0.9v-1.7zM504.5,568.4l1.5,0.9v1.7l-1.5,0.9l-1.5,-0.9v-1.7zM507.2,568.4l1.5,0.9v1.7l-1.5,0.9l-1.5,-0.9v-1.7zM531.4,568.4l1.5,0.9v1.7l-1.5,0.9l-1.5,-0.9v-1.7zM534.1,568.4l1.5,0.9v1.7l-1.5,0.9l-1.5,-0.9v-1.7zM536.7,568.4l1.5,0.9v1.7l-1.5,0.9l-1.5,-0.9v-1.7zM539.4,568.4l1.5,0.9v1.7l-1.5,0.9l-1.5,-0.9v-1.7zM542.1,568.4l1.5,0.9v1.7l-1.5,0.9l-1.5,-0.9v-1.7zM544.8,568.4l1.5,0.9v1.7l-1.5,0.9l-1.5,-0.9v-1.7zM547.5,568.4l1.5,0.9v1.7l-1.5,0.9l-1.5,-0.9v-1.7zM550.2,568.4l1.5,0.9v1.7l-1.5,0.9l-1.5,-0.9v-1.7zM552.9,568.4l1.5,0.9v1.7l-1.5,0.9l-1.5,-0.9v-1.7zM555.5,568.4l1.5,0.9v1.7l-1.5,0.9l-1.5,-0.9v-1.7zM492.5,570.7l1.5,0.9v1.7l-1.5,0.9l-1.5,-0.9v-1.7zM495.1,570.7l1.5,0.9v1.7l-1.5,0.9l-1.5,-0.9v-1.7zM497.8,570.7l1.5,0.9v1.7l-1.5,0.9l-1.5,-0.9v-1.7zM500.5,570.7l1.5,0.9v1.7l-1.5,0.9l-1.5,-0.9v-1.7zM503.2,570.7l1.5,0.9v1.7l-1.5,0.9l-1.5,-0.9v-1.7zM505.9,570.7l1.5,0.9v1.7l-1.5,0.9l-1.5,-0.9v-1.7zM508.6,570.7l1.5,0.9v1.7l-1.5,0.9l-1.5,-0.9v-1.7zM540.8,570.7l1.5,0.9v1.7l-1.5,0.9l-1.5,-0.9v-1.7zM543.5,570.7l1.5,0.9v1.7l-1.5,0.9l-1.5,-0.9v-1.7zM546.1,570.7l1.5,0.9v1.7l-1.5,0.9l-1.5,-0.9v-1.7zM548.8,570.7l1.5,0.9v1.7l-1.5,0.9l-1.5,-0.9v-1.7zM551.5,570.7l1.5,0.9v1.7l-1.5,0.9l-1.5,-0.9v-1.7zM554.2,570.7l1.5,0.9v1.7l-1.5,0.9l-1.5,-0.9v-1.7zM491.1,573.0l1.5,0.9v1.7l-1.5,0.9l-1.5,-0.9v-1.7zM493.8,573.0l1.5,0.9v1.7l-1.5,0.9l-1.5,-0.9v-1.7zM496.5,573.0l1.5,0.9v1.7l-1.5,0.9l-1.5,-0.9v-1.7zM499.2,573.0l1.5,0.9v1.7l-1.5,0.9l-1.5,-0.9v-1.7zM501.8,573.0l1.5,0.9v1.7l-1.5,0.9l-1.5,-0.9v-1.7zM504.5,573.0l1.5,0.9v1.7l-1.5,0.9l-1.5,-0.9v-1.7zM507.2,573.0l1.5,0.9v1.7l-1.5,0.9l-1.5,-0.9v-1.7zM509.9,573.0l1.5,0.9v1.7l-1.5,0.9l-1.5,-0.9v-1.7zM489.8,575.3l1.5,0.9v1.7l-1.5,0.9l-1.5,-0.9v-1.7zM492.5,575.3l1.5,0.9v1.7l-1.5,0.9l-1.5,-0.9v-1.7zM495.1,575.3l1.5,0.9v1.7l-1.5,0.9l-1.5,-0.9v-1.7zM497.8,575.3l1.5,0.9v1.7l-1.5,0.9l-1.5,-0.9v-1.7zM500.5,575.3l1.5,0.9v1.7l-1.5,0.9l-1.5,-0.9v-1.7zM503.2,575.3l1.5,0.9v1.7l-1.5,0.9l-1.5,-0.9v-1.7zM505.9,575.3l1.5,0.9v1.7l-1.5,0.9l-1.5,-0.9v-1.7zM508.6,575.3l1.5,0.9v1.7l-1.5,0.9l-1.5,-0.9v-1.7zM493.8,577.7l1.5,0.9v1.7l-1.5,0.9l-1.5,-0.9v-1.7zM496.5,577.7l1.5,0.9v1.7l-1.5,0.9l-1.5,-0.9v-1.7zM499.2,577.7l1.5,0.9v1.7l-1.5,0.9l-1.5,-0.9v-1.7zM501.8,577.7l1.5,0.9v1.7l-1.5,0.9l-1.5,-0.9v-1.7zM504.5,577.7l1.5,0.9v1.7l-1.5,0.9l-1.5,-0.9v-1.7zM507.2,577.7l1.5,0.9v1.7l-1.5,0.9l-1.5,-0.9v-1.7zM497.8,580.0l1.5,0.9v1.7l-1.5,0.9l-1.5,-0.9v-1.7zM500.5,580.0l1.5,0.9v1.7l-1.5,0.9l-1.5,-0.9v-1.7z" fill="#d2e2f2"/>
<path d="M487.1,510.2l1.5,0.9v1.7l-1.5,0.9l-1.5,-0.9v-1.7zM489.8,510.2l1.5,0.9v1.7l-1.5,0.9l-1.5,-0.9v-1.7zM492.5,510.2l1.5,0.9v1.7l-1.5,0.9l-1.5,-0.9v-1.7zM495.1,510.2l1.5,0.9v1.7l-1.5,0.9l-1.5,-0.9v-1.7zM499.2,512.6l1.5,0.9v1.7l-1.5,0.9l-1.5,-0.9v-1.7zM503.2,514.9l1.5,0.9v1.7l-1.5,0.9l-1.5,-0.9v-1.7zM507.2,517.2l1.5,0.9v1.7l-1.5,0.9l-1.5,-0.9v-1.7zM512.6,521.9l1.5,0.9v1.7l-1.5,0.9l-1.5,-0.9v-1.7zM513.9,524.2l1.5,0.9v1.7l-1.5,0.9l-1.5,-0.9v-1.7zM518.0,526.5l1.5,0.9v1.7l-1.5,0.9l-1.5,-0.9v-1.7zM519.3,528.8l1.5,0.9v1.7l-1.5,0.9l-1.5,-0.9v-1.7zM523.3,531.2l1.5,0.9v1.7l-1.5,0.9l-1.5,-0.9v-1.7zM524.7,533.5l1.5,0.9v1.7l-1.5,0.9l-1.5,-0.9v-1.7zM485.7,535.8l1.5,0.9v1.7l-1.5,0.9l-1.5,-0.9v-1.7zM526.0,535.8l1.5,0.9v1.7l-1.5,0.9l-1.5,-0.9v-1.7zM530.0,538.1l1.5,0.9v1.7l-1.5,0.9l-1.5,-0.9v-1.7zM491.1,540.5l1.5,0.9v1.7l-1.5,0.9l-1.5,-0.9v-1.7zM531.4,540.5l1.5,0.9v1.7l-1.5,0.9l-1.5,-0.9v-1.7zM492.5,542.8l1.5,0.9v1.7l-1.5,0.9l-1.5,-0.9v-1.7zM532.7,542.8l1.5,0.9v1.7l-1.5,0.9l-1.5,-0.9v-1.7zM535.4,542.8l1.5,0.9v1.7l-1.5,0.9l-1.5,-0.9v-1.7zM496.5,545.1l1.5,0.9v1.7l-1.5,0.9l-1.5,-0.9v-1.7zM536.7,545.1l1.5,0.9v1.7l-1.5,0.9l-1.5,-0.9v-1.7zM497.8,547.4l1.5,0.9v1.7l-1.5,0.9l-1.5,-0.9v-1.7zM538.1,547.4l1.5,0.9v1.7l-1.5,0.9l-1.5,-0.9v-1.7zM501.8,549.8l1.5,0.9v1.7l-1.5,0.9l-1.5,-0.9v-1.7zM539.4,549.8l1.5,0.9v1.7l-1.5,0.9l-1.5,-0.9v-1.7zM542.1,549.8l1.5,0.9v1.7l-1.5,0.9l-1.5,-0.9v-1.7zM505.9,552.1l1.5,0.9v1.7l-1.5,0.9l-1.5,-0.9v-1.7zM540.8,552.1l1.5,0.9v1.7l-1.5,0.9l-1.5,-0.9v-1.7zM543.5,552.1l1.5,0.9v1.7l-1.5,0.9l-1.5,-0.9v-1.7zM509.9,554.4l1.5,0.9v1.7l-1.5,0.9l-1.5,-0.9v-1.7zM512.6,554.4l1.5,0.9v1.7l-1.5,0.9l-1.5,-0.9v-1.7zM542.1,554.4l1.5,0.9v1.7l-1.5,0.9l-1.5,-0.9v-1.7zM544.8,554.4l1.5,0.9v1.7l-1.5,0.9l-1.5,-0.9v-1.7zM513.9,556.7l1.5,0.9v1.7l-1.5,0.9l-1.5,-0.9v-1.7zM516.6,556.7l1.5,0.9v1.7l-1.5,0.9l-1.5,-0.9v-1.7zM519.3,556.7l1.5,0.9v1.7l-1.5,0.9l-1.5,-0.9v-1.7zM543.5,556.7l1.5,0.9v1.7l-1.5,0.9l-1.5,-0.9v-1.7zM546.1,556.7l1.5,0.9v1.7l-1.5,0.9l-1.5,-0.9v-1.7zM520.6,559.1l1.5,0.9v1.7l-1.5,0.9l-1.5,-0.9v-1.7zM523.3,559.1l1.5,0.9v1.7l-1.5,0.9l-1.5,-0.9v-1.7zM526.0,559.1l1.5,0.9v1.7l-1.5,0.9l-1.5,-0.9v-1.7zM542.1,559.1l1.5,0.9v1.7l-1.5,0.9l-1.5,-0.9v-1.7zM544.8,559.1l1.5,0.9v1.7l-1.5,0.9l-1.5,-0.9v-1.7zM547.5,559.1l1.5,0.9v1.7l-1.5,0.9l-1.5,-0.9v-1.7zM524.7,561.4l1.5,0.9v1.7l-1.5,0.9l-1.5,-0.9v-1.7zM527.4,561.4l1.5,0.9v1.7l-1.5,0.9l-1.5,-0.9v-1.7zM530.0,561.4l1.5,0.9v1.7l-1.5,0.9l-1.5,-0.9v-1.7zM532.7,561.4l1.5,0.9v1.7l-1.5,0.9l-1.5,-0.9v-1.7zM535.4,561.4l1.5,0.9v1.7l-1.5,0.9l-1.5,-0.9v-1.7zM538.1,561.4l1.5,0.9v1.7l-1.5,0.9l-1.5,-0.9v-1.7zM540.8,561.4l1.5,0.9v1.7l-1.5,0.9l-1.5,-0.9v-1.7zM543.5,561.4l1.5,0.9v1.7l-1.5,0.9l-1.5,-0.9v-1.7zM546.1,561.4l1.5,0.9v1.7l-1.5,0.9l-1.5,-0.9v-1.7zM534.1,563.7l1.5,0.9v1.7l-1.5,0.9l-1.5,-0.9v-1.7zM536.7,563.7l1.5,0.9v1.7l-1.5,0.9l-1.5,-0.9v-1.7zM539.4,563.7l1.5,0.9v1.7l-1.5,0.9l-1.5,-0.9v-1.7zM542.1,563.7l1.5,0.9v1.7l-1.5,0.9l-1.5,-0.9v-1.7zM544.8,563.7l1.5,0.9v1.7l-1.5,0.9l-1.5,-0.9v-1.7zM547.5,563.7l1.5,0.9v1.7l-1.5,0.9l-1.5,-0.9v-1.7z" fill="#cadef0"/>
<path d="M485.7,512.6l1.5,0.9v1.7l-1.5,0.9l-1.5,-0.9v-1.7zM488.4,512.6l1.5,0.9v1.7l-1.5,0.9l-1.5,-0.9v-1.7zM496.5,512.6l1.5,0.9v1.7l-1.5,0.9l-1.5,-0.9v-1.7zM484.4,514.9l1.5,0.9v1.7l-1.5,0.9l-1.5,-0.9v-1.7zM500.5,514.9l1.5,0.9v1.7l-1.5,0.9l-1.5,-0.9v-1.7zM504.5,517.2l1.5,0.9v1.7l-1.5,0.9l-1.5,-0.9v-1.7zM508.6,519.5l1.5,0.9v1.7l-1.5,0.9l-1.5,-0.9v-1.7zM509.9,521.9l1.5,0.9v1.7l-1.5,0.9l-1.5,-0.9v-1.7zM483.1,526.5l1.5,0.9v1.7l-1.5,0.9l-1.5,-0.9v-1.7zM515.3,526.5l1.5,0.9v1.7l-1.5,0.9l-1.5,-0.9v-1.7zM484.4,528.8l1.5,0.9v1.7l-1.5,0.9l-1.5,-0.9v-1.7zM516.6,528.8l1.5,0.9v1.7l-1.5,0.9l-1.5,-0.9v-1.7zM485.7,531.2l1.5,0.9v1.7l-1.5,0.9l-1.5,-0.9v-1.7zM520.6,531.2l1.5,0.9v1.7l-1.5,0.9l-1.5,-0.9v-1.7zM487.1,533.5l1.5,0.9v1.7l-1.5,0.9l-1.5,-0.9v-1.7zM522.0,533.5l1.5,0.9v1.7l-1.5,0.9l-1.5,-0.9v-1.7zM488.4,535.8l1.5,0.9v1.7l-1.5,0.9l-1.5,-0.9v-1.7zM523.3,535.8l1.5,0.9v1.7l-1.5,0.9l-1.5,-0.9v-1.7zM489.8,538.1l1.5,0.9v1.7l-1.5,0.9l-1.5,-0.9v-1.7zM527.4,538.1l1.5,0.9v1.7l-1.5,0.9l-1.5,-0.9v-1.7zM528.7,540.5l1.5,0.9v1.7l-1.5,0.9l-1.5,-0.9v-1.7zM495.1,542.8l1.5,0.9v1.7l-1.5,0.9l-1.5,-0.9v-1.7zM530.0,542.8l1.5,0.9v1.7l-1.5,0.9l-1.5,-0.9v-1.7zM531.4,545.1l1.5,0.9v1.7l-1.5,0.9l-1.5,-0.9v-1.7zM534.1,545.1l1.5,0.9v1.7l-1.5,0.9l-1.5,-0.9v-1.7zM500.5,547.4l1.5,0.9v1.7l-1.5,0.9l-1.5,-0.9v-1.7zM535.4,547.4l1.5,0.9v1.7l-1.5,0.9l-1.5,-0.9v-1.7zM504.5,549.8l1.5,0.9v1.7l-1.5,0.9l-1.5,-0.9v-1.7zM507.2,549.8l1.5,0.9v1.7l-1.5,0.9l-1.5,-0.9v-1.7zM536.7,549.8l1.5,0.9v1.7l-1.5,0.9l-1.5,-0.9v-1.7zM508.6,552.1l1.5,0.9v1.7l-1.5,0.9l-1.5,-0.9v-1.7zM511.2,552.1l1.5,0.9v1.7l-1.5,0.9l-1.5,-0.9v-1.7zM535.4,552.1l1.5,0.9v1.7l-1.5,0.9l-1.5,-0.9v-1.7zM538.1,552.1l1.5,0.9v1.7l-1.5,0.9l-1.5,-0.9v-1.7zM515.3,554.4l1.5,0.9v1.7l-1.5,0.9l-1.5,-0.9v-1.7zM518.0,554.4l1.5,0.9v1.7l-1.5,0.9l-1.5,-0.9v-1.7zM536.7,554.4l1.5,0.9v1.7l-1.5,0.9l-1.5,-0.9v-1.7zM539.4,554.4l1.5,0.9v1.7l-1.5,0.9l-1.5,-0.9v-1.7zM522.0,556.7l1.5,0.9v1.7l-1.5,0.9l-1.5,-0.9v-1.7zM524.7,556.7l1.5,0.9v1.7l-1.5,0.9l-1.5,-0.9v-1.7zM527.4,556.7l1.5,0.9v1.7l-1.5,0.9l-1.5,-0.9v-1.7zM530.0,556.7l1.5,0.9v1.7l-1.5,0.9l-1.5,-0.9v-1.7zM532.7,556.7l1.5,0.9v1.7l-1.5,0.9l-1.5,-0.9v-1.7zM535.4,556.7l1.5,0.9v1.7l-1.5,0.9l-1.5,-0.9v-1.7zM538.1,556.7l1.5,0.9v1.7l-1.5,0.9l-1.5,-0.9v-1.7zM540.8,556.7l1.5,0.9v1.7l-1.5,0.9l-1.5,-0.9v-1.7zM528.7,559.1l1.5,0.9v1.7l-1.5,0.9l-1.5,-0.9v-1.7zM531.4,559.1l1.5,0.9v1.7l-1.5,0.9l-1.5,-0.9v-1.7zM534.1,559.1l1.5,0.9v1.7l-1.5,0.9l-1.5,-0.9v-1.7zM536.7,559.1l1.5,0.9v1.7l-1.5,0.9l-1.5,-0.9v-1.7zM539.4,559.1l1.5,0.9v1.7l-1.5,0.9l-1.5,-0.9v-1.7z" fill="#c2d9ed"/>
<path d="M491.1,512.6l1.5,0.9v1.7l-1.5,0.9l-1.5,-0.9v-1.7zM493.8,512.6l1.5,0.9v1.7l-1.5,0.9l-1.5,-0.9v-1.7zM487.1,514.9l1.5,0.9v1.7l-1.5,0.9l-1.5,-0.9v-1.7zM484.4,519.5l1.5,0.9v1.7l-1.5,0.9l-1.5,-0.9v-1.7zM505.9,519.5l1.5,0.9v1.7l-1.5,0.9l-1.5,-0.9v-1.7zM483.1,521.9l1.5,0.9v1.7l-1.5,0.9l-1.5,-0.9v-1.7zM484.4,524.2l1.5,0.9v1.7l-1.5,0.9l-1.5,-0.9v-1.7zM511.2,524.2l1.5,0.9v1.7l-1.5,0.9l-1.5,-0.9v-1.7zM518.0,531.2l1.5,0.9v1.7l-1.5,0.9l-1.5,-0.9v-1.7zM519.3,533.5l1.5,0.9v1.7l-1.5,0.9l-1.5,-0.9v-1.7zM524.7,538.1l1.5,0.9v1.7l-1.5,0.9l-1.5,-0.9v-1.7zM493.8,540.5l1.5,0.9v1.7l-1.5,0.9l-1.5,-0.9v-1.7zM526.0,540.5l1.5,0.9v1.7l-1.5,0.9l-1.5,-0.9v-1.7zM527.4,542.8l1.5,0.9v1.7l-1.5,0.9l-1.5,-0.9v-1.7zM499.2,545.1l1.5,0.9v1.7l-1.5,0.9l-1.5,-0.9v-1.7zM528.7,545.1l1.5,0.9v1.7l-1.5,0.9l-1.5,-0.9v-1.7zM503.2,547.4l1.5,0.9v1.7l-1.5,0.9l-1.5,-0.9v-1.7zM530.0,547.4l1.5,0.9v1.7l-1.5,0.9l-1.5,-0.9v-1.7zM532.7,547.4l1.5,0.9v1.7l-1.5,0.9l-1.5,-0.9v-1.7zM509.9,549.8l1.5,0.9v1.7l-1.5,0.9l-1.5,-0.9v-1.7zM531.4,549.8l1.5,0.9v1.7l-1.5,0.9l-1.5,-0.9v-1.7zM534.1,549.8l1.5,0.9v1.7l-1.5,0.9l-1.5,-0.9v-1.7zM513.9,552.1l1.5,0.9v1.7l-1.5,0.9l-1.5,-0.9v-1.7zM516.6,552.1l1.5,0.9v1.7l-1.5,0.9l-1.5,-0.9v-1.7zM530.0,552.1l1.5,0.9v1.7l-1.5,0.9l-1.5,-0.9v-1.7zM532.7,552.1l1.5,0.9v1.7l-1.5,0.9l-1.5,-0.9v-1.7zM520.6,554.4l1.5,0.9v1.7l-1.5,0.9l-1.5,-0.9v-1.7zM523.3,554.4l1.5,0.9v1.7l-1.5,0.9l-1.5,-0.9v-1.7zM526.0,554.4l1.5,0.9v1.7l-1.5,0.9l-1.5,-0.9v-1.7zM528.7,554.4l1.5,0.9v1.7l-1.5,0.9l-1.5,-0.9v-1.7zM531.4,554.4l1.5,0.9v1.7l-1.5,0.9l-1.5,-0.9v-1.7zM534.1,554.4l1.5,0.9v1.7l-1.5,0.9l-1.5,-0.9v-1.7z" fill="#b6d4ea"/>
<path d="M489.8,514.9l1.5,0.9v1.7l-1.5,0.9l-1.5,-0.9v-1.7zM495.1,514.9l1.5,0.9v1.7l-1.5,0.9l-1.5,-0.9v-1.7zM497.8,514.9l1.5,0.9v1.7l-1.5,0.9l-1.5,-0.9v-1.7zM485.7,517.2l1.5,0.9v1.7l-1.5,0.9l-1.5,-0.9v-1.7zM501.8,517.2l1.5,0.9v1.7l-1.5,0.9l-1.5,-0.9v-1.7zM507.2,521.9l1.5,0.9v1.7l-1.5,0.9l-1.5,-0.9v-1.7zM485.7,526.5l1.5,0.9v1.7l-1.5,0.9l-1.5,-0.9v-1.7zM512.6,526.5l1.5,0.9v1.7l-1.5,0.9l-1.5,-0.9v-1.7zM513.9,528.8l1.5,0.9v1.7l-1.5,0.9l-1.5,-0.9v-1.7zM491.1,535.8l1.5,0.9v1.7l-1.5,0.9l-1.5,-0.9v-1.7zM520.6,535.8l1.5,0.9v1.7l-1.5,0.9l-1.5,-0.9v-1.7zM492.5,538.1l1.5,0.9v1.7l-1.5,0.9l-1.5,-0.9v-1.7zM522.0,538.1l1.5,0.9v1.7l-1.5,0.9l-1.5,-0.9v-1.7zM523.3,540.5l1.5,0.9v1.7l-1.5,0.9l-1.5,-0.9v-1.7zM497.8,542.8l1.5,0.9v1.7l-1.5,0.9l-1.5,-0.9v-1.7zM524.7,542.8l1.5,0.9v1.7l-1.5,0.9l-1.5,-0.9v-1.7zM501.8,545.1l1.5,0.9v1.7l-1.5,0.9l-1.5,-0.9v-1.7zM526.0,545.1l1.5,0.9v1.7l-1.5,0.9l-1.5,-0.9v-1.7zM505.9,547.4l1.5,0.9v1.7l-1.5,0.9l-1.5,-0.9v-1.7zM527.4,547.4l1.5,0.9v1.7l-1.5,0.9l-1.5,-0.9v-1.7zM512.6,549.8l1.5,0.9v1.7l-1.5,0.9l-1.5,-0.9v-1.7zM515.3,549.8l1.5,0.9v1.7l-1.5,0.9l-1.5,-0.9v-1.7zM526.0,549.8l1.5,0.9v1.7l-1.5,0.9l-1.5,-0.9v-1.7zM528.7,549.8l1.5,0.9v1.7l-1.5,0.9l-1.5,-0.9v-1.7zM519.3,552.1l1.5,0.9v1.7l-1.5,0.9l-1.5,-0.9v-1.7zM522.0,552.1l1.5,0.9v1.7l-1.5,0.9l-1.5,-0.9v-1.7zM524.7,552.1l1.5,0.9v1.7l-1.5,0.9l-1.5,-0.9v-1.7zM527.4,552.1l1.5,0.9v1.7l-1.5,0.9l-1.5,-0.9v-1.7z" fill="#abd0e6"/>
<path d="M492.5,514.9l1.5,0.9v1.7l-1.5,0.9l-1.5,-0.9v-1.7zM488.4,517.2l1.5,0.9v1.7l-1.5,0.9l-1.5,-0.9v-1.7zM499.2,517.2l1.5,0.9v1.7l-1.5,0.9l-1.5,-0.9v-1.7zM487.1,519.5l1.5,0.9v1.7l-1.5,0.9l-1.5,-0.9v-1.7zM503.2,519.5l1.5,0.9v1.7l-1.5,0.9l-1.5,-0.9v-1.7zM485.7,521.9l1.5,0.9v1.7l-1.5,0.9l-1.5,-0.9v-1.7zM508.6,524.2l1.5,0.9v1.7l-1.5,0.9l-1.5,-0.9v-1.7zM487.1,528.8l1.5,0.9v1.7l-1.5,0.9l-1.5,-0.9v-1.7zM488.4,531.2l1.5,0.9v1.7l-1.5,0.9l-1.5,-0.9v-1.7zM515.3,531.2l1.5,0.9v1.7l-1.5,0.9l-1.5,-0.9v-1.7zM489.8,533.5l1.5,0.9v1.7l-1.5,0.9l-1.5,-0.9v-1.7zM516.6,533.5l1.5,0.9v1.7l-1.5,0.9l-1.5,-0.9v-1.7zM518.0,535.8l1.5,0.9v1.7l-1.5,0.9l-1.5,-0.9v-1.7zM496.5,540.5l1.5,0.9v1.7l-1.5,0.9l-1.5,-0.9v-1.7zM500.5,542.8l1.5,0.9v1.7l-1.5,0.9l-1.5,-0.9v-1.7zM522.0,542.8l1.5,0.9v1.7l-1.5,0.9l-1.5,-0.9v-1.7zM504.5,545.1l1.5,0.9v1.7l-1.5,0.9l-1.5,-0.9v-1.7zM523.3,545.1l1.5,0.9v1.7l-1.5,0.9l-1.5,-0.9v-1.7zM508.6,547.4l1.5,0.9v1.7l-1.5,0.9l-1.5,-0.9v-1.7zM511.2,547.4l1.5,0.9v1.7l-1.5,0.9l-1.5,-0.9v-1.7zM522.0,547.4l1.5,0.9v1.7l-1.5,0.9l-1.5,-0.9v-1.7zM524.7,547.4l1.5,0.9v1.7l-1.5,0.9l-1.5,-0.9v-1.7zM518.0,549.8l1.5,0.9v1.7l-1.5,0.9l-1.5,-0.9v-1.7zM520.6,549.8l1.5,0.9v1.7l-1.5,0.9l-1.5,-0.9v-1.7zM523.3,549.8l1.5,0.9v1.7l-1.5,0.9l-1.5,-0.9v-1.7z" fill="#a0cbe2"/>
<path d="M487.1,524.2l1.5,0.9v1.7l-1.5,0.9l-1.5,-0.9v-1.7zM509.9,526.5l1.5,0.9v1.7l-1.5,0.9l-1.5,-0.9v-1.7zM495.1,538.1l1.5,0.9v1.7l-1.5,0.9l-1.5,-0.9v-1.7zM519.3,538.1l1.5,0.9v1.7l-1.5,0.9l-1.5,-0.9v-1.7zM520.6,540.5l1.5,0.9v1.7l-1.5,0.9l-1.5,-0.9v-1.7zM519.3,542.8l1.5,0.9v1.7l-1.5,0.9l-1.5,-0.9v-1.7zM507.2,545.1l1.5,0.9v1.7l-1.5,0.9l-1.5,-0.9v-1.7zM520.6,545.1l1.5,0.9v1.7l-1.5,0.9l-1.5,-0.9v-1.7zM513.9,547.4l1.5,0.9v1.7l-1.5,0.9l-1.5,-0.9v-1.7zM516.6,547.4l1.5,0.9v1.7l-1.5,0.9l-1.5,-0.9v-1.7zM519.3,547.4l1.5,0.9v1.7l-1.5,0.9l-1.5,-0.9v-1.7z" fill="#93c4df"/>
<path d="M491.1,517.2l1.5,0.9v1.7l-1.5,0.9l-1.5,-0.9v-1.7zM493.8,517.2l1.5,0.9v1.7l-1.5,0.9l-1.5,-0.9v-1.7zM496.5,517.2l1.5,0.9v1.7l-1.5,0.9l-1.5,-0.9v-1.7zM488.4,521.9l1.5,0.9v1.7l-1.5,0.9l-1.5,-0.9v-1.7zM504.5,521.9l1.5,0.9v1.7l-1.5,0.9l-1.5,-0.9v-1.7zM488.4,526.5l1.5,0.9v1.7l-1.5,0.9l-1.5,-0.9v-1.7zM511.2,528.8l1.5,0.9v1.7l-1.5,0.9l-1.5,-0.9v-1.7zM512.6,531.2l1.5,0.9v1.7l-1.5,0.9l-1.5,-0.9v-1.7zM513.9,533.5l1.5,0.9v1.7l-1.5,0.9l-1.5,-0.9v-1.7zM493.8,535.8l1.5,0.9v1.7l-1.5,0.9l-1.5,-0.9v-1.7zM515.3,535.8l1.5,0.9v1.7l-1.5,0.9l-1.5,-0.9v-1.7zM516.6,538.1l1.5,0.9v1.7l-1.5,0.9l-1.5,-0.9v-1.7zM499.2,540.5l1.5,0.9v1.7l-1.5,0.9l-1.5,-0.9v-1.7zM518.0,540.5l1.5,0.9v1.7l-1.5,0.9l-1.5,-0.9v-1.7zM503.2,542.8l1.5,0.9v1.7l-1.5,0.9l-1.5,-0.9v-1.7zM516.6,542.8l1.5,0.9v1.7l-1.5,0.9l-1.5,-0.9v-1.7zM509.9,545.1l1.5,0.9v1.7l-1.5,0.9l-1.5,-0.9v-1.7zM512.6,545.1l1.5,0.9v1.7l-1.5,0.9l-1.5,-0.9v-1.7zM515.3,545.1l1.5,0.9v1.7l-1.5,0.9l-1.5,-0.9v-1.7zM518.0,545.1l1.5,0.9v1.7l-1.5,0.9l-1.5,-0.9v-1.7z" fill="#84bcdc"/>
<path d="M489.8,519.5l1.5,0.9v1.7l-1.5,0.9l-1.5,-0.9v-1.7zM500.5,519.5l1.5,0.9v1.7l-1.5,0.9l-1.5,-0.9v-1.7zM505.9,524.2l1.5,0.9v1.7l-1.5,0.9l-1.5,-0.9v-1.7zM489.8,528.8l1.5,0.9v1.7l-1.5,0.9l-1.5,-0.9v-1.7zM491.1,531.2l1.5,0.9v1.7l-1.5,0.9l-1.5,-0.9v-1.7zM492.5,533.5l1.5,0.9v1.7l-1.5,0.9l-1.5,-0.9v-1.7zM515.3,540.5l1.5,0.9v1.7l-1.5,0.9l-1.5,-0.9v-1.7zM505.9,542.8l1.5,0.9v1.7l-1.5,0.9l-1.5,-0.9v-1.7zM513.9,542.8l1.5,0.9v1.7l-1.5,0.9l-1.5,-0.9v-1.7z" fill="#76b4d8"/>
<path d="M489.8,524.2l1.5,0.9v1.7l-1.5,0.9l-1.5,-0.9v-1.7zM507.2,526.5l1.5,0.9v1.7l-1.5,0.9l-1.5,-0.9v-1.7zM497.8,538.1l1.5,0.9v1.7l-1.5,0.9l-1.5,-0.9v-1.7zM513.9,538.1l1.5,0.9v1.7l-1.5,0.9l-1.5,-0.9v-1.7zM501.8,540.5l1.5,0.9v1.7l-1.5,0.9l-1.5,-0.9v-1.7zM512.6,540.5l1.5,0.9v1.7l-1.5,0.9l-1.5,-0.9v-1.7zM508.6,542.8l1.5,0.9v1.7l-1.5,0.9l-1.5,-0.9v-1.7zM511.2,542.8l1.5,0.9v1.7l-1.5,0.9l-1.5,-0.9v-1.7z" fill="#69acd5"/>
<path d="M492.5,519.5l1.5,0.9v1.7l-1.5,0.9l-1.5,-0.9v-1.7zM497.8,519.5l1.5,0.9v1.7l-1.5,0.9l-1.5,-0.9v-1.7zM501.8,521.9l1.5,0.9v1.7l-1.5,0.9l-1.5,-0.9v-1.7zM508.6,528.8l1.5,0.9v1.7l-1.5,0.9l-1.5,-0.9v-1.7zM509.9,531.2l1.5,0.9v1.7l-1.5,0.9l-1.5,-0.9v-1.7zM511.2,533.5l1.5,0.9v1.7l-1.5,0.9l-1.5,-0.9v-1.7zM496.5,535.8l1.5,0.9v1.7l-1.5,0.9l-1.5,-0.9v-1.7zM512.6,535.8l1.5,0.9v1.7l-1.5,0.9l-1.5,-0.9v-1.7zM504.5,540.5l1.5,0.9v1.7l-1.5,0.9l-1.5,-0.9v-1.7zM509.9,540.5l1.5,0.9v1.7l-1.5,0.9l-1.5,-0.9v-1.7z" fill="#5da5d1"/>
<path d="M495.1,519.5l1.5,0.9v1.7l-1.5,0.9l-1.5,-0.9v-1.7zM491.1,521.9l1.5,0.9v1.7l-1.5,0.9l-1.5,-0.9v-1.7zM491.1,526.5l1.5,0.9v1.7l-1.5,0.9l-1.5,-0.9v-1.7zM495.1,533.5l1.5,0.9v1.7l-1.5,0.9l-1.5,-0.9v-1.7zM500.5,538.1l1.5,0.9v1.7l-1.5,0.9l-1.5,-0.9v-1.7zM511.2,538.1l1.5,0.9v1.7l-1.5,0.9l-1.5,-0.9v-1.7zM507.2,540.5l1.5,0.9v1.7l-1.5,0.9l-1.5,-0.9v-1.7z" fill="#529dcc"/>
<path d="M503.2,524.2l1.5,0.9v1.7l-1.5,0.9l-1.5,-0.9v-1.7zM492.5,528.8l1.5,0.9v1.7l-1.5,0.9l-1.5,-0.9v-1.7zM493.8,531.2l1.5,0.9v1.7l-1.5,0.9l-1.5,-0.9v-1.7zM509.9,535.8l1.5,0.9v1.7l-1.5,0.9l-1.5,-0.9v-1.7zM503.2,538.1l1.5,0.9v1.7l-1.5,0.9l-1.5,-0.9v-1.7zM508.6,538.1l1.5,0.9v1.7l-1.5,0.9l-1.5,-0.9v-1.7z" fill="#4795c8"/>
<path d="M499.2,521.9l1.5,0.9v1.7l-1.5,0.9l-1.5,-0.9v-1.7zM504.5,526.5l1.5,0.9v1.7l-1.5,0.9l-1.5,-0.9v-1.7zM505.9,528.8l1.5,0.9v1.7l-1.5,0.9l-1.5,-0.9v-1.7zM507.2,531.2l1.5,0.9v1.7l-1.5,0.9l-1.5,-0.9v-1.7zM508.6,533.5l1.5,0.9v1.7l-1.5,0.9l-1.5,-0.9v-1.7zM499.2,535.8l1.5,0.9v1.7l-1.5,0.9l-1.5,-0.9v-1.7zM505.9,538.1l1.5,0.9v1.7l-1.5,0.9l-1.5,-0.9v-1.7z" fill="#3c8cc3"/>
<path d="M493.8,521.9l1.5,0.9v1.7l-1.5,0.9l-1.5,-0.9v-1.7zM492.5,524.2l1.5,0.9v1.7l-1.5,0.9l-1.5,-0.9v-1.7zM501.8,535.8l1.5,0.9v1.7l-1.5,0.9l-1.5,-0.9v-1.7zM507.2,535.8l1.5,0.9v1.7l-1.5,0.9l-1.5,-0.9v-1.7z" fill="#3383be"/>
<path d="M496.5,521.9l1.5,0.9v1.7l-1.5,0.9l-1.5,-0.9v-1.7zM497.8,533.5l1.5,0.9v1.7l-1.5,0.9l-1.5,-0.9v-1.7zM505.9,533.5l1.5,0.9v1.7l-1.5,0.9l-1.5,-0.9v-1.7zM504.5,535.8l1.5,0.9v1.7l-1.5,0.9l-1.5,-0.9v-1.7z" fill="#2a7aba"/>
<path d="M500.5,524.2l1.5,0.9v1.7l-1.5,0.9l-1.5,-0.9v-1.7zM504.5,531.2l1.5,0.9v1.7l-1.5,0.9l-1.5,-0.9v-1.7z" fill="#2171b5"/>
<path d="M493.8,526.5l1.5,0.9v1.7l-1.5,0.9l-1.5,-0.9v-1.7zM501.8,526.5l1.5,0.9v1.7l-1.5,0.9l-1.5,-0.9v-1.7zM503.2,528.8l1.5,0.9v1.7l-1.5,0.9l-1.5,-0.9v-1.7zM496.5,531.2l1.5,0.9v1.7l-1.5,0.9l-1.5,-0.9v-1.7zM500.5,533.5l1.5,0.9v1.7l-1.5,0.9l-1.5,-0.9v-1.7zM503.2,533.5l1.5,0.9v1.7l-1.5,0.9l-1.5,-0.9v-1.7z" fill="#1967ad"/>
<path d="M495.1,524.2l1.5,0.9v1.7l-1.5,0.9l-1.5,-0.9v-1.7zM495.1,528.8l1.5,0.9v1.7l-1.5,0.9l-1.5,-0.9v-1.7zM501.8,531.2l1.5,0.9v1.7l-1.5,0.9l-1.5,-0.9v-1.7z" fill="#09529d"/>
<path d="M497.8,524.2l1.5,0.9v1.7l-1.5,0.9l-1.5,-0.9v-1.7zM499.2,531.2l1.5,0.9v1.7l-1.5,0.9l-1.5,-0.9v-1.7z" fill="#08478d"/>
<path d="M496.5,526.5l1.5,0.9v1.7l-1.5,0.9l-1.5,-0.9v-1.7zM499.2,526.5l1.5,0.9v1.7l-1.5,0.9l-1.5,-0.9v-1.7zM497.8,528.8l1.5,0.9v1.7l-1.5,0.9l-1.5,-0.9v-1.7zM500.5,528.8l1.5,0.9v1.7l-1.5,0.9l-1.5,-0.9v-1.7z" fill="#08306b"/>
</svg>
</body></html>
